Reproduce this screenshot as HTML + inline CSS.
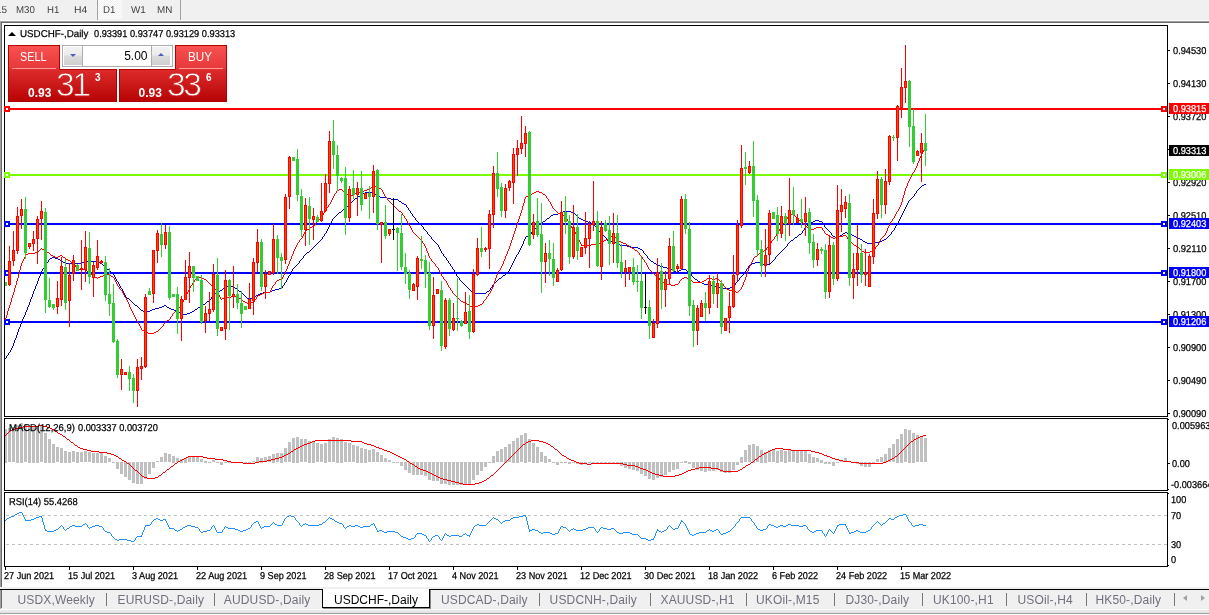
<!DOCTYPE html>
<html><head><meta charset="utf-8"><title>USDCHF-,Daily</title>
<style>
html,body{margin:0;padding:0}
body{width:1209px;height:615px;position:relative;overflow:hidden;background:#fff;font-family:"Liberation Sans",sans-serif}
.t{position:absolute;text-rendering:geometricPrecision;-webkit-text-stroke:0.25px currentColor;font-size:10px;line-height:13px;height:13px;color:#000;white-space:pre;transform-origin:0 0}
.plb{position:absolute;left:1169px;width:40px;height:11px}
#toolbar{position:absolute;left:0;top:0;width:1209px;height:20px;background:#f0f0f0}
.tb{position:absolute;top:2.5px;font-size:10px;line-height:13px;color:#3c3c3c;white-space:pre}
.vs{position:absolute;top:0;width:1px;height:20px;background:#a0a0a0}
#tabbar{position:absolute;left:0;top:590px;width:1209px;height:19px;background:#f0f0f0}
.tab{position:absolute;top:3px;font-size:12px;line-height:15px;color:#70707e;white-space:pre;letter-spacing:0.15px}
.sep{position:absolute;top:3px;width:1px;height:13px;background:#777}
#act{position:absolute;left:322px;top:589px;width:106px;height:18px;background:#fff;border:1px solid #000;border-top:none;box-shadow:1px 1px 0 #888}
#act span{position:absolute;left:11px;top:4px;font-size:12px;line-height:15px;color:#000;white-space:pre}
.btn{position:absolute;color:#fff}
</style></head><body>
<div id="toolbar"><i class="vs" style="left:97px"></i><i class="vs" style="left:180px"></i>
<div style="position:absolute;left:98px;top:0;width:24px;height:19px;background:repeating-conic-gradient(#fff 0 25%,#f0f0f0 0 50%) 0 0/2px 2px"></div></div>
<div style="position:absolute;left:0;top:20px;width:1209px;height:1px;background:#fafafa"></div>
<div style="position:absolute;left:0;top:21px;width:1209px;height:1px;background:#a0a0a0"></div>
<div style="position:absolute;left:1px;top:22px;width:1208px;height:1px;background:#696969"></div>
<div style="position:absolute;left:0;top:21px;width:1px;height:566px;background:#a0a0a0"></div>
<div style="position:absolute;left:1px;top:22px;width:1px;height:565px;background:#696969"></div>
<svg width="1209" height="615" viewBox="0 0 1209 615" style="position:absolute;left:0;top:0"><defs><clipPath id="cm"><rect x="5" y="26" width="1162" height="390"/></clipPath><clipPath id="c2"><rect x="5" y="419" width="1162" height="71"/></clipPath><clipPath id="c3"><rect x="5" y="493" width="1162" height="73"/></clipPath></defs><rect x="4" y="25" width="1164" height="1" fill="#000"/><rect x="4" y="416" width="1164" height="1" fill="#000"/><rect x="4" y="25" width="1" height="392" fill="#000"/><rect x="1167" y="25" width="1" height="392" fill="#000"/><rect x="4" y="418" width="1164" height="1" fill="#000"/><rect x="4" y="490" width="1164" height="1" fill="#000"/><rect x="4" y="418" width="1" height="73" fill="#000"/><rect x="1167" y="418" width="1" height="73" fill="#000"/><rect x="4" y="492" width="1164" height="1" fill="#000"/><rect x="4" y="566" width="1164" height="1" fill="#000"/><rect x="4" y="492" width="1" height="75" fill="#000"/><rect x="1167" y="492" width="1" height="75" fill="#000"/><g shape-rendering="crispEdges"><rect x="5" y="108" width="1162" height="2" fill="#ff0000"/><rect x="5" y="174" width="1162" height="2" fill="#7cfc00"/><rect x="5" y="223" width="1162" height="2" fill="#0000ff"/><rect x="5" y="272" width="1162" height="2" fill="#0000ff"/><rect x="5" y="321" width="1162" height="2" fill="#0000ff"/></g><g shape-rendering="crispEdges"><rect x="4" y="106" width="6" height="6" fill="#ff0000"/><rect x="6" y="108" width="2" height="2" fill="#fff"/><rect x="1161" y="106" width="6" height="6" fill="#ff0000"/><rect x="1163" y="108" width="2" height="2" fill="#fff"/><rect x="4" y="172" width="6" height="6" fill="#7cfc00"/><rect x="6" y="174" width="2" height="2" fill="#fff"/><rect x="1161" y="172" width="6" height="6" fill="#7cfc00"/><rect x="1163" y="174" width="2" height="2" fill="#fff"/><rect x="4" y="221" width="6" height="6" fill="#0000ff"/><rect x="6" y="223" width="2" height="2" fill="#fff"/><rect x="1161" y="221" width="6" height="6" fill="#0000ff"/><rect x="1163" y="223" width="2" height="2" fill="#fff"/><rect x="4" y="270" width="6" height="6" fill="#0000ff"/><rect x="6" y="272" width="2" height="2" fill="#fff"/><rect x="1161" y="270" width="6" height="6" fill="#0000ff"/><rect x="1163" y="272" width="2" height="2" fill="#fff"/><rect x="4" y="319" width="6" height="6" fill="#0000ff"/><rect x="6" y="321" width="2" height="2" fill="#fff"/><rect x="1161" y="319" width="6" height="6" fill="#0000ff"/><rect x="1163" y="321" width="2" height="2" fill="#fff"/></g><path d="M5 358h1v1h-1zM6 356h1v2h-1zM7 355h1v1h-1zM8 353h1v2h-1zM9 352h1v1h-1zM10 350h1v2h-1zM11 348h1v2h-1zM12 346h1v2h-1zM13 343h1v3h-1zM14 340h1v3h-1zM15 338h1v2h-1zM16 335h1v3h-1zM17 332h1v3h-1zM18 329h1v3h-1zM19 327h1v2h-1zM20 324h1v3h-1zM21 321h1v3h-1zM22 319h1v2h-1zM23 317h1v2h-1zM24 315h1v2h-1zM25 312h1v3h-1zM26 310h1v2h-1zM27 307h1v3h-1zM28 305h1v2h-1zM29 302h1v3h-1zM30 299h1v3h-1zM31 297h1v2h-1zM32 294h1v3h-1zM33 291h1v3h-1zM34 289h1v2h-1zM35 286h1v3h-1zM36 284h1v2h-1zM37 281h1v3h-1zM38 278h1v3h-1zM39 276h1v2h-1zM40 273h1v3h-1zM41 271h1v2h-1zM42 269h1v2h-1zM43 268h1v1h-1zM44 266h1v2h-1zM45 265h1v1h-1zM46 263h1v2h-1zM47 262h1v1h-1zM48 260h1v2h-1zM49 259h1v1h-1zM50 258h2v1h-2zM52 257h3v1h-3zM55 258h3v1h-3zM58 259h2v1h-2zM60 260h2v1h-2zM62 261h1v1h-1zM63 262h2v1h-2zM65 263h17v1h-17zM82 262h2v1h-2zM84 261h14v1h-14zM98 262h2v1h-2zM100 263h2v1h-2zM102 264h1v1h-1zM103 265h1v1h-1zM104 266h1v1h-1zM105 267h1v1h-1zM106 268h1v1h-1zM107 269h2v1h-2zM109 270h1v1h-1zM110 271h1v1h-1zM111 272h1v1h-1zM112 273h1v1h-1zM113 274h1v1h-1zM114 275h1v2h-1zM115 277h1v2h-1zM116 279h1v2h-1zM117 281h1v1h-1zM118 282h1v2h-1zM119 284h1v2h-1zM120 286h1v2h-1zM121 288h1v1h-1zM122 289h1v2h-1zM123 291h1v2h-1zM124 293h1v2h-1zM125 295h1v2h-1zM126 297h1v1h-1zM127 298h2v1h-2zM129 299h1v1h-1zM130 300h1v1h-1zM131 301h1v1h-1zM132 302h1v1h-1zM133 303h1v1h-1zM134 304h1v1h-1zM135 305h2v1h-2zM137 306h1v1h-1zM138 307h1v1h-1zM139 308h1v1h-1zM140 309h1v1h-1zM141 310h2v1h-2zM143 311h7v1h-7zM150 310h2v1h-2zM152 309h3v1h-3zM155 308h4v1h-4zM159 307h3v1h-3zM162 306h2v1h-2zM164 305h2v1h-2zM166 306h1v1h-1zM167 307h2v1h-2zM169 308h2v1h-2zM171 309h3v1h-3zM174 310h2v1h-2zM176 311h2v1h-2zM178 312h2v1h-2zM180 313h3v1h-3zM183 314h4v1h-4zM187 313h3v1h-3zM190 312h2v1h-2zM192 311h2v1h-2zM194 310h1v1h-1zM195 309h2v1h-2zM197 308h1v1h-1zM198 307h2v1h-2zM200 306h2v1h-2zM202 305h1v1h-1zM203 304h2v1h-2zM205 303h1v1h-1zM206 302h1v1h-1zM207 301h2v1h-2zM209 300h1v1h-1zM210 299h1v1h-1zM211 297h1v2h-1zM212 296h1v1h-1zM213 295h1v1h-1zM214 294h1v1h-1zM215 293h2v1h-2zM217 292h1v1h-1zM218 291h2v1h-2zM220 290h2v1h-2zM222 289h1v1h-1zM223 288h1v1h-1zM224 287h1v1h-1zM225 286h9v1h-9zM234 287h1v1h-1zM235 288h2v1h-2zM237 289h1v1h-1zM238 290h1v1h-1zM239 291h2v1h-2zM241 292h1v1h-1zM242 293h1v1h-1zM243 294h1v1h-1zM244 295h1v1h-1zM245 296h1v1h-1zM246 297h1v1h-1zM247 298h2v1h-2zM249 299h1v1h-1zM250 298h2v1h-2zM252 297h2v1h-2zM254 296h2v1h-2zM256 295h2v1h-2zM258 294h2v1h-2zM260 293h3v1h-3zM263 292h7v1h-7zM270 291h2v1h-2zM272 290h3v1h-3zM275 289h4v1h-4zM279 288h3v1h-3zM282 286h1v2h-1zM283 285h1v1h-1zM284 283h1v2h-1zM285 282h1v1h-1zM286 280h1v2h-1zM287 278h1v2h-1zM288 276h1v2h-1zM289 275h1v1h-1zM290 273h1v2h-1zM291 271h1v2h-1zM292 269h1v2h-1zM293 268h1v1h-1zM294 267h1v1h-1zM295 266h1v1h-1zM296 265h1v1h-1zM297 264h1v1h-1zM298 263h1v1h-1zM299 261h1v2h-1zM300 260h1v1h-1zM301 259h1v1h-1zM302 258h1v1h-1zM303 256h1v2h-1zM304 255h1v1h-1zM305 254h1v1h-1zM306 253h1v1h-1zM307 252h2v1h-2zM309 251h1v1h-1zM310 250h1v1h-1zM311 249h1v1h-1zM312 248h1v1h-1zM313 247h1v1h-1zM314 246h1v1h-1zM315 245h1v1h-1zM316 244h1v1h-1zM317 243h1v1h-1zM318 242h1v1h-1zM319 241h1v1h-1zM320 240h1v1h-1zM321 239h1v1h-1zM322 237h1v2h-1zM323 236h1v1h-1zM324 234h1v2h-1zM325 233h1v1h-1zM326 231h1v2h-1zM327 229h1v2h-1zM328 227h1v2h-1zM329 225h1v2h-1zM330 223h1v2h-1zM331 221h1v2h-1zM332 219h1v2h-1zM333 218h1v1h-1zM334 217h1v1h-1zM335 216h1v1h-1zM336 215h1v1h-1zM337 214h1v1h-1zM338 213h1v1h-1zM339 212h2v1h-2zM341 211h1v1h-1zM342 210h1v1h-1zM343 209h2v1h-2zM345 208h1v1h-1zM346 207h1v1h-1zM347 206h1v1h-1zM348 205h1v1h-1zM349 204h1v1h-1zM350 203h1v1h-1zM351 202h1v1h-1zM352 201h1v1h-1zM353 200h1v1h-1zM354 199h1v1h-1zM355 198h2v1h-2zM357 197h1v1h-1zM358 196h2v1h-2zM360 195h2v1h-2zM362 194h1v1h-1zM363 193h2v1h-2zM365 192h9v1h-9zM374 193h1v1h-1zM375 194h2v1h-2zM377 195h1v1h-1zM378 196h2v1h-2zM380 197h7v1h-7zM387 198h4v1h-4zM391 199h7v1h-7zM398 200h1v1h-1zM399 201h2v1h-2zM401 202h1v1h-1zM402 203h2v1h-2zM404 204h2v1h-2zM406 205h1v2h-1zM407 207h1v1h-1zM408 208h1v2h-1zM409 210h1v1h-1zM410 211h1v2h-1zM411 213h1v1h-1zM412 214h1v2h-1zM413 216h1v1h-1zM414 217h1v1h-1zM415 218h1v2h-1zM416 220h1v1h-1zM417 221h1v1h-1zM418 222h1v1h-1zM419 223h1v1h-1zM420 224h1v1h-1zM421 225h1v1h-1zM422 226h1v1h-1zM423 227h1v2h-1zM424 229h1v1h-1zM425 230h1v1h-1zM426 231h1v1h-1zM427 232h1v2h-1zM428 234h1v1h-1zM429 235h1v1h-1zM430 236h1v1h-1zM431 237h1v2h-1zM432 239h1v1h-1zM433 240h1v1h-1zM434 241h1v1h-1zM435 242h1v1h-1zM436 243h1v1h-1zM437 244h1v1h-1zM438 245h1v2h-1zM439 247h1v2h-1zM440 249h1v2h-1zM441 251h1v2h-1zM442 253h1v1h-1zM443 254h1v2h-1zM444 256h1v1h-1zM445 257h1v1h-1zM446 258h1v2h-1zM447 260h1v1h-1zM448 261h1v2h-1zM449 263h1v1h-1zM450 264h1v2h-1zM451 266h1v1h-1zM452 267h1v2h-1zM453 269h1v1h-1zM454 270h1v2h-1zM455 272h1v2h-1zM456 274h1v2h-1zM457 276h1v1h-1zM458 277h1v1h-1zM459 278h1v2h-1zM460 280h1v1h-1zM461 281h1v1h-1zM462 282h1v1h-1zM463 283h1v1h-1zM464 284h1v1h-1zM465 285h1v1h-1zM466 286h1v1h-1zM467 287h1v1h-1zM468 288h1v1h-1zM469 289h1v1h-1zM470 290h1v1h-1zM471 291h2v1h-2zM473 292h2v1h-2zM475 293h11v1h-11zM486 292h1v1h-1zM487 291h2v1h-2zM489 290h1v1h-1zM490 288h1v2h-1zM491 287h1v1h-1zM492 285h1v2h-1zM493 284h1v1h-1zM494 283h1v1h-1zM495 282h1v1h-1zM496 281h1v1h-1zM497 280h1v1h-1zM498 279h1v1h-1zM499 278h2v1h-2zM501 277h1v1h-1zM502 276h1v1h-1zM503 275h2v1h-2zM505 274h1v1h-1zM506 273h1v1h-1zM507 272h1v1h-1zM508 271h1v1h-1zM509 269h1v2h-1zM510 267h1v2h-1zM511 265h1v2h-1zM512 263h1v2h-1zM513 261h1v2h-1zM514 259h1v2h-1zM515 257h1v2h-1zM516 255h1v2h-1zM517 254h1v1h-1zM518 252h1v2h-1zM519 250h1v2h-1zM520 248h1v2h-1zM521 246h1v2h-1zM522 244h1v2h-1zM523 241h1v3h-1zM524 239h1v2h-1zM525 237h1v2h-1zM526 236h2v1h-2zM528 235h2v1h-2zM530 234h1v1h-1zM531 232h1v2h-1zM532 231h1v1h-1zM533 230h1v1h-1zM534 229h1v1h-1zM535 228h1v1h-1zM536 227h1v1h-1zM537 226h1v1h-1zM538 225h1v1h-1zM539 224h2v1h-2zM541 223h1v1h-1zM542 222h1v1h-1zM543 221h2v1h-2zM545 220h1v1h-1zM546 219h1v1h-1zM547 218h2v1h-2zM549 217h1v1h-1zM550 216h1v1h-1zM551 215h2v1h-2zM553 214h5v1h-5zM558 213h2v1h-2zM560 212h3v1h-3zM563 211h8v1h-8zM571 212h3v1h-3zM574 213h1v1h-1zM575 214h1v1h-1zM576 215h1v1h-1zM577 216h1v1h-1zM578 217h1v1h-1zM579 218h2v1h-2zM581 219h2v1h-2zM583 220h3v1h-3zM586 221h2v1h-2zM588 222h3v1h-3zM591 223h3v1h-3zM594 224h1v2h-1zM595 226h1v1h-1zM596 227h1v2h-1zM597 229h1v1h-1zM598 230h1v1h-1zM599 231h1v1h-1zM600 232h1v1h-1zM601 233h1v1h-1zM602 234h1v1h-1zM603 235h1v1h-1zM604 236h1v1h-1zM605 237h1v1h-1zM606 238h1v1h-1zM607 239h1v2h-1zM608 241h1v1h-1zM609 242h2v1h-2zM611 241h3v1h-3zM614 242h2v1h-2zM616 243h2v1h-2zM618 244h2v1h-2zM620 245h7v1h-7zM627 246h4v1h-4zM631 247h7v1h-7zM638 248h2v1h-2zM640 249h2v1h-2zM642 250h1v1h-1zM643 251h1v2h-1zM644 253h1v1h-1zM645 254h1v1h-1zM646 255h1v1h-1zM647 256h1v2h-1zM648 258h1v1h-1zM649 259h1v1h-1zM650 260h1v1h-1zM651 261h2v1h-2zM653 262h1v1h-1zM654 263h2v1h-2zM656 264h2v1h-2zM658 265h2v1h-2zM660 266h3v1h-3zM663 267h4v1h-4zM667 268h3v1h-3zM670 269h2v1h-2zM672 270h2v1h-2zM674 271h2v1h-2zM676 272h2v1h-2zM678 271h1v1h-1zM679 270h2v1h-2zM681 269h5v1h-5zM686 270h1v1h-1zM687 271h2v1h-2zM689 272h1v1h-1zM690 273h1v1h-1zM691 274h1v2h-1zM692 276h1v1h-1zM693 277h1v1h-1zM694 278h1v1h-1zM695 279h2v1h-2zM697 280h1v1h-1zM698 281h2v1h-2zM700 282h2v1h-2zM702 283h2v1h-2zM704 284h6v1h-6zM710 285h2v1h-2zM712 286h6v1h-6zM718 287h2v1h-2zM720 288h10v1h-10zM730 287h2v1h-2zM732 286h2v1h-2zM734 285h1v1h-1zM735 283h1v2h-1zM736 282h1v1h-1zM737 281h1v1h-1zM738 280h1v1h-1zM739 278h1v2h-1zM740 277h1v1h-1zM741 276h1v1h-1zM742 275h1v1h-1zM743 273h1v2h-1zM744 272h1v1h-1zM745 271h1v1h-1zM746 269h1v2h-1zM747 268h1v1h-1zM748 266h1v2h-1zM749 265h1v1h-1zM750 264h2v1h-2zM752 263h3v1h-3zM755 262h7v1h-7zM762 263h1v1h-1zM763 264h2v1h-2zM765 265h2v1h-2zM767 264h3v1h-3zM770 263h1v1h-1zM771 262h1v1h-1zM772 261h1v1h-1zM773 260h1v1h-1zM774 259h1v1h-1zM775 257h1v2h-1zM776 256h1v1h-1zM777 255h1v1h-1zM778 254h1v1h-1zM779 253h1v1h-1zM780 252h1v1h-1zM781 251h1v1h-1zM782 250h1v1h-1zM783 249h1v1h-1zM784 248h1v1h-1zM785 247h1v1h-1zM786 246h1v1h-1zM787 244h1v2h-1zM788 243h1v1h-1zM789 242h1v1h-1zM790 241h1v1h-1zM791 240h2v1h-2zM793 239h1v1h-1zM794 238h1v1h-1zM795 237h2v1h-2zM797 236h1v1h-1zM798 235h1v1h-1zM799 234h2v1h-2zM801 233h1v1h-1zM802 231h1v2h-1zM803 230h1v1h-1zM804 228h1v2h-1zM805 227h1v1h-1zM806 226h1v1h-1zM807 225h2v1h-2zM809 224h1v1h-1zM810 223h1v1h-1zM811 222h2v1h-2zM813 221h2v1h-2zM815 220h4v1h-4zM819 221h3v1h-3zM822 222h1v2h-1zM823 224h1v1h-1zM824 225h1v2h-1zM825 227h1v1h-1zM826 228h1v1h-1zM827 229h1v1h-1zM828 230h1v1h-1zM829 231h1v1h-1zM830 232h1v1h-1zM831 233h1v2h-1zM832 235h1v1h-1zM833 236h2v1h-2zM835 237h3v1h-3zM838 236h2v1h-2zM840 235h2v1h-2zM842 234h1v1h-1zM843 233h2v1h-2zM845 232h2v1h-2zM847 233h3v1h-3zM850 234h2v1h-2zM852 235h2v1h-2zM854 236h2v1h-2zM856 237h2v1h-2zM858 238h2v1h-2zM860 239h2v1h-2zM862 240h1v1h-1zM863 241h2v1h-2zM865 242h2v1h-2zM867 243h8v1h-8zM875 242h4v1h-4zM879 241h3v1h-3zM882 240h2v1h-2zM884 239h2v1h-2zM886 238h1v1h-1zM887 237h1v1h-1zM888 236h1v1h-1zM889 235h1v1h-1zM890 234h1v1h-1zM891 232h1v2h-1zM892 231h1v1h-1zM893 230h1v1h-1zM894 228h1v2h-1zM895 226h1v2h-1zM896 224h1v2h-1zM897 223h1v1h-1zM898 221h1v2h-1zM899 219h1v2h-1zM900 217h1v2h-1zM901 215h1v2h-1zM902 213h1v2h-1zM903 211h1v2h-1zM904 209h1v2h-1zM905 207h1v2h-1zM906 205h1v2h-1zM907 203h1v2h-1zM908 201h1v2h-1zM909 200h1v1h-1zM910 199h1v1h-1zM911 198h1v1h-1zM912 197h1v1h-1zM913 196h1v1h-1zM914 194h1v2h-1zM915 193h1v1h-1zM916 191h1v2h-1zM917 190h1v1h-1zM918 189h1v1h-1zM919 188h1v1h-1zM920 187h1v1h-1zM921 186h1v1h-1zM922 185h2v1h-2zM924 184h2v1h-2z" fill="#0000cd" shape-rendering="crispEdges" clip-path="url(#cm)"/><path d="M5 318h1v2h-1zM6 315h1v3h-1zM7 311h1v4h-1zM8 308h1v3h-1zM9 305h1v3h-1zM10 302h1v3h-1zM11 298h1v4h-1zM12 295h1v3h-1zM13 292h1v3h-1zM14 288h1v4h-1zM15 285h1v3h-1zM16 281h1v4h-1zM17 278h1v3h-1zM18 274h1v4h-1zM19 270h1v4h-1zM20 266h1v4h-1zM21 263h1v3h-1zM22 261h1v2h-1zM23 259h1v2h-1zM24 257h1v2h-1zM25 255h1v2h-1zM26 254h2v1h-2zM28 253h7v1h-7zM35 252h3v1h-3zM38 251h1v1h-1zM39 250h1v1h-1zM40 249h1v1h-1zM41 248h1v1h-1zM42 249h2v1h-2zM44 250h2v1h-2zM46 251h1v1h-1zM47 252h2v1h-2zM49 253h1v1h-1zM50 254h1v1h-1zM51 255h2v1h-2zM53 256h2v1h-2zM55 257h3v1h-3zM58 256h2v1h-2zM60 255h2v1h-2zM62 256h1v1h-1zM63 257h2v1h-2zM65 258h1v1h-1zM66 259h2v1h-2zM68 260h2v1h-2zM70 261h1v1h-1zM71 262h2v1h-2zM73 263h1v1h-1zM74 264h1v1h-1zM75 265h1v2h-1zM76 267h1v1h-1zM77 268h2v1h-2zM79 269h7v1h-7zM86 270h1v1h-1zM87 271h2v1h-2zM89 272h1v1h-1zM90 273h1v1h-1zM91 274h2v1h-2zM93 275h1v1h-1zM94 276h1v1h-1zM95 277h2v1h-2zM97 278h1v1h-1zM98 277h2v1h-2zM100 276h3v1h-3zM103 275h4v1h-4zM107 274h3v1h-3zM110 275h1v1h-1zM111 276h2v1h-2zM113 277h1v1h-1zM114 278h1v2h-1zM115 280h1v2h-1zM116 282h1v2h-1zM117 284h1v2h-1zM118 286h1v1h-1zM119 287h1v2h-1zM120 289h1v1h-1zM121 290h1v1h-1zM122 291h1v2h-1zM123 293h1v2h-1zM124 295h1v2h-1zM125 297h1v1h-1zM126 298h1v2h-1zM127 300h1v2h-1zM128 302h1v2h-1zM129 304h1v3h-1zM130 307h1v2h-1zM131 309h1v2h-1zM132 311h1v2h-1zM133 313h1v2h-1zM134 315h1v2h-1zM135 317h1v2h-1zM136 319h1v2h-1zM137 321h1v1h-1zM138 322h1v2h-1zM139 324h1v2h-1zM140 326h1v2h-1zM141 328h1v2h-1zM142 330h2v1h-2zM144 331h2v1h-2zM146 332h2v1h-2zM148 333h6v1h-6zM154 332h2v1h-2zM156 331h2v1h-2zM158 330h1v1h-1zM159 329h1v1h-1zM160 328h1v1h-1zM161 327h1v1h-1zM162 326h1v1h-1zM163 324h1v2h-1zM164 323h1v1h-1zM165 322h1v1h-1zM166 321h1v1h-1zM167 320h2v1h-2zM169 319h1v1h-1zM170 317h1v2h-1zM171 316h1v1h-1zM172 314h1v2h-1zM173 313h1v1h-1zM174 312h1v1h-1zM175 311h2v1h-2zM177 310h1v1h-1zM178 308h1v2h-1zM179 307h1v1h-1zM180 305h1v2h-1zM181 304h1v1h-1zM182 302h1v2h-1zM183 300h1v2h-1zM184 298h1v2h-1zM185 296h1v2h-1zM186 294h1v2h-1zM187 292h1v2h-1zM188 290h1v2h-1zM189 288h1v2h-1zM190 286h1v2h-1zM191 285h1v1h-1zM192 283h1v2h-1zM193 282h1v1h-1zM194 280h1v2h-1zM195 279h1v1h-1zM196 277h1v2h-1zM197 276h2v1h-2zM199 277h3v1h-3zM202 278h2v1h-2zM204 279h2v1h-2zM206 280h1v1h-1zM207 281h1v1h-1zM208 282h1v1h-1zM209 283h1v1h-1zM210 284h1v1h-1zM211 285h2v1h-2zM213 286h1v1h-1zM214 287h1v2h-1zM215 289h1v1h-1zM216 290h1v2h-1zM217 292h1v1h-1zM218 293h1v2h-1zM219 295h1v2h-1zM220 297h1v2h-1zM221 299h1v1h-1zM222 298h2v1h-2zM224 297h7v1h-7zM231 296h7v1h-7zM238 297h1v1h-1zM239 298h2v1h-2zM241 299h1v1h-1zM242 300h1v1h-1zM243 301h2v1h-2zM245 302h2v1h-2zM247 303h4v1h-4zM251 302h3v1h-3zM254 300h1v2h-1zM255 299h1v1h-1zM256 297h1v2h-1zM257 296h1v1h-1zM258 295h2v1h-2zM260 294h2v1h-2zM262 293h2v1h-2zM264 292h6v1h-6zM270 290h1v2h-1zM271 288h1v2h-1zM272 286h1v2h-1zM273 285h1v1h-1zM274 284h1v1h-1zM275 282h1v2h-1zM276 281h1v1h-1zM277 280h2v1h-2zM279 279h3v1h-3zM282 277h1v2h-1zM283 275h1v2h-1zM284 273h1v2h-1zM285 271h1v2h-1zM286 269h1v2h-1zM287 266h1v3h-1zM288 264h1v2h-1zM289 261h1v3h-1zM290 259h1v2h-1zM291 256h1v3h-1zM292 254h1v2h-1zM293 251h1v3h-1zM294 249h1v2h-1zM295 247h1v2h-1zM296 245h1v2h-1zM297 243h1v2h-1zM298 242h1v1h-1zM299 240h1v2h-1zM300 239h1v1h-1zM301 238h1v1h-1zM302 236h1v2h-1zM303 234h1v2h-1zM304 232h1v2h-1zM305 231h1v1h-1zM306 230h1v1h-1zM307 229h2v1h-2zM309 228h1v1h-1zM310 227h2v1h-2zM312 226h2v1h-2zM314 225h1v1h-1zM315 223h1v2h-1zM316 222h1v1h-1zM317 221h1v1h-1zM318 220h1v1h-1zM319 219h1v1h-1zM320 218h1v1h-1zM321 217h1v1h-1zM322 215h1v2h-1zM323 213h1v2h-1zM324 211h1v2h-1zM325 210h1v1h-1zM326 208h1v2h-1zM327 207h1v1h-1zM328 205h1v2h-1zM329 204h1v1h-1zM330 202h1v2h-1zM331 200h1v2h-1zM332 198h1v2h-1zM333 196h1v2h-1zM334 194h1v2h-1zM335 193h1v1h-1zM336 191h1v2h-1zM337 190h2v1h-2zM339 189h3v1h-3zM342 190h1v1h-1zM343 191h1v1h-1zM344 192h1v1h-1zM345 193h1v1h-1zM346 194h2v1h-2zM348 195h6v1h-6zM354 194h1v1h-1zM355 193h2v1h-2zM357 192h5v1h-5zM362 191h2v1h-2zM364 190h3v1h-3zM367 189h3v1h-3zM370 188h1v1h-1zM371 187h1v1h-1zM372 186h1v1h-1zM373 185h2v1h-2zM375 186h3v1h-3zM378 187h1v1h-1zM379 188h2v1h-2zM381 189h1v1h-1zM382 190h1v2h-1zM383 192h1v2h-1zM384 194h1v2h-1zM385 196h1v1h-1zM386 197h1v1h-1zM387 198h1v2h-1zM388 200h1v1h-1zM389 201h1v1h-1zM390 202h1v1h-1zM391 203h1v1h-1zM392 204h1v1h-1zM393 205h1v1h-1zM394 206h1v1h-1zM395 207h1v1h-1zM396 208h1v1h-1zM397 209h1v1h-1zM398 210h1v1h-1zM399 211h2v1h-2zM401 212h1v1h-1zM402 213h1v2h-1zM403 215h1v1h-1zM404 216h1v2h-1zM405 218h1v1h-1zM406 219h1v2h-1zM407 221h1v2h-1zM408 223h1v2h-1zM409 225h1v1h-1zM410 226h1v2h-1zM411 228h1v2h-1zM412 230h1v2h-1zM413 232h1v1h-1zM414 233h1v1h-1zM415 234h1v1h-1zM416 235h1v1h-1zM417 236h1v1h-1zM418 237h1v1h-1zM419 238h1v1h-1zM420 239h1v1h-1zM421 240h1v1h-1zM422 241h1v2h-1zM423 243h1v1h-1zM424 244h1v2h-1zM425 246h1v2h-1zM426 248h1v3h-1zM427 251h1v2h-1zM428 253h1v3h-1zM429 256h1v2h-1zM430 258h1v1h-1zM431 259h1v2h-1zM432 261h1v1h-1zM433 262h1v1h-1zM434 263h1v1h-1zM435 264h1v2h-1zM436 266h1v1h-1zM437 267h1v1h-1zM438 268h1v2h-1zM439 270h1v2h-1zM440 272h1v2h-1zM441 274h1v2h-1zM442 276h1v1h-1zM443 277h1v2h-1zM444 279h1v1h-1zM445 280h1v1h-1zM446 281h1v2h-1zM447 283h1v2h-1zM448 285h1v2h-1zM449 287h1v1h-1zM450 288h1v2h-1zM451 290h1v1h-1zM452 291h1v2h-1zM453 293h1v1h-1zM454 294h1v1h-1zM455 295h1v1h-1zM456 296h1v1h-1zM457 297h1v1h-1zM458 298h1v1h-1zM459 299h1v1h-1zM460 300h1v1h-1zM461 301h2v1h-2zM463 302h3v1h-3zM466 303h1v1h-1zM467 304h2v1h-2zM469 305h1v1h-1zM470 306h2v1h-2zM472 307h3v1h-3zM475 306h3v1h-3zM478 305h2v1h-2zM480 304h2v1h-2zM482 303h1v1h-1zM483 301h1v2h-1zM484 300h1v1h-1zM485 299h1v1h-1zM486 297h1v2h-1zM487 296h1v1h-1zM488 294h1v2h-1zM489 293h1v1h-1zM490 291h1v2h-1zM491 289h1v2h-1zM492 287h1v2h-1zM493 284h1v3h-1zM494 281h1v3h-1zM495 278h1v3h-1zM496 275h1v3h-1zM497 273h1v2h-1zM498 271h1v2h-1zM499 270h1v1h-1zM500 268h1v2h-1zM501 266h1v2h-1zM502 264h1v2h-1zM503 261h1v3h-1zM504 259h1v2h-1zM505 256h1v3h-1zM506 254h1v2h-1zM507 251h1v3h-1zM508 249h1v2h-1zM509 246h1v3h-1zM510 243h1v3h-1zM511 240h1v3h-1zM512 237h1v3h-1zM513 234h1v3h-1zM514 231h1v3h-1zM515 228h1v3h-1zM516 225h1v3h-1zM517 222h1v3h-1zM518 219h1v3h-1zM519 216h1v3h-1zM520 213h1v3h-1zM521 210h1v3h-1zM522 206h1v4h-1zM523 203h1v3h-1zM524 199h1v4h-1zM525 197h1v2h-1zM526 196h2v1h-2zM528 195h2v1h-2zM530 194h2v1h-2zM532 193h2v1h-2zM534 192h2v1h-2zM536 191h3v1h-3zM539 192h3v1h-3zM542 193h1v1h-1zM543 194h2v1h-2zM545 195h1v1h-1zM546 196h1v2h-1zM547 198h1v1h-1zM548 199h1v2h-1zM549 201h1v1h-1zM550 202h1v2h-1zM551 204h1v2h-1zM552 206h1v2h-1zM553 208h1v1h-1zM554 209h1v1h-1zM555 210h1v1h-1zM556 211h1v1h-1zM557 212h1v1h-1zM558 213h2v1h-2zM560 214h2v1h-2zM562 215h2v1h-2zM564 216h2v1h-2zM566 217h1v2h-1zM567 219h1v2h-1zM568 221h1v2h-1zM569 223h1v2h-1zM570 225h1v1h-1zM571 226h1v2h-1zM572 228h1v1h-1zM573 229h1v1h-1zM574 230h1v2h-1zM575 232h1v2h-1zM576 234h1v2h-1zM577 236h1v2h-1zM578 238h1v2h-1zM579 240h1v2h-1zM580 242h1v2h-1zM581 244h1v2h-1zM582 245h9v1h-9zM591 244h7v1h-7zM598 243h2v1h-2zM600 242h2v1h-2zM602 241h2v1h-2zM604 240h2v1h-2zM606 239h2v1h-2zM608 238h2v1h-2zM610 237h1v1h-1zM611 236h2v1h-2zM613 235h1v1h-1zM614 236h1v1h-1zM615 237h1v1h-1zM616 238h1v1h-1zM617 239h1v1h-1zM618 240h1v1h-1zM619 241h2v1h-2zM621 242h2v1h-2zM623 243h3v1h-3zM626 244h1v1h-1zM627 245h2v1h-2zM629 246h1v1h-1zM630 247h2v1h-2zM632 248h2v1h-2zM634 249h1v1h-1zM635 250h2v1h-2zM637 251h1v1h-1zM638 252h1v1h-1zM639 253h1v2h-1zM640 255h1v1h-1zM641 256h1v1h-1zM642 257h1v2h-1zM643 259h1v1h-1zM644 260h1v2h-1zM645 262h1v1h-1zM646 263h1v2h-1zM647 265h1v2h-1zM648 267h1v2h-1zM649 269h1v1h-1zM650 270h1v1h-1zM651 271h1v1h-1zM652 272h1v1h-1zM653 273h1v1h-1zM654 274h1v1h-1zM655 275h2v1h-2zM657 276h1v1h-1zM658 277h1v1h-1zM659 278h1v2h-1zM660 280h1v1h-1zM661 281h1v1h-1zM662 282h2v1h-2zM664 283h3v1h-3zM667 284h4v1h-4zM671 285h4v1h-4zM675 284h3v1h-3zM678 283h1v1h-1zM679 281h1v2h-1zM680 280h1v1h-1zM681 279h1v1h-1zM682 278h2v1h-2zM684 277h3v1h-3zM687 278h3v1h-3zM690 279h1v1h-1zM691 280h1v1h-1zM692 281h1v1h-1zM693 282h9v1h-9zM702 281h2v1h-2zM704 280h2v1h-2zM706 279h1v1h-1zM707 278h2v1h-2zM709 277h1v1h-1zM710 278h2v1h-2zM712 279h3v1h-3zM715 278h3v1h-3zM718 279h1v1h-1zM719 280h1v1h-1zM720 281h1v1h-1zM721 282h1v1h-1zM722 283h1v1h-1zM723 284h1v2h-1zM724 286h1v1h-1zM725 287h1v1h-1zM726 288h1v1h-1zM727 289h2v1h-2zM729 290h5v1h-5zM734 291h2v1h-2zM736 292h2v1h-2zM738 291h1v1h-1zM739 290h1v1h-1zM740 289h1v1h-1zM741 287h1v2h-1zM742 285h1v2h-1zM743 282h1v3h-1zM744 280h1v2h-1zM745 277h1v3h-1zM746 274h1v3h-1zM747 271h1v3h-1zM748 268h1v3h-1zM749 266h1v2h-1zM750 264h1v2h-1zM751 262h1v2h-1zM752 260h1v2h-1zM753 258h1v2h-1zM754 257h1v1h-1zM755 256h2v1h-2zM757 255h1v1h-1zM758 254h1v1h-1zM759 253h2v1h-2zM761 252h1v1h-1zM762 251h2v1h-2zM764 250h2v1h-2zM766 248h1v2h-1zM767 247h1v1h-1zM768 245h1v2h-1zM769 244h1v1h-1zM770 243h1v1h-1zM771 241h1v2h-1zM772 240h1v1h-1zM773 239h1v1h-1zM774 237h1v2h-1zM775 236h1v1h-1zM776 234h1v2h-1zM777 233h1v1h-1zM778 231h1v2h-1zM779 229h1v2h-1zM780 227h1v2h-1zM781 226h1v1h-1zM782 224h1v2h-1zM783 223h1v1h-1zM784 221h1v2h-1zM785 220h1v1h-1zM786 219h1v1h-1zM787 217h1v2h-1zM788 216h1v1h-1zM789 215h2v1h-2zM791 214h3v1h-3zM794 215h1v1h-1zM795 216h1v1h-1zM796 217h1v1h-1zM797 218h1v1h-1zM798 219h1v1h-1zM799 220h2v1h-2zM801 221h1v1h-1zM802 222h1v1h-1zM803 223h1v1h-1zM804 224h1v1h-1zM805 225h1v1h-1zM806 226h1v1h-1zM807 227h2v1h-2zM809 228h2v1h-2zM811 229h3v1h-3zM814 228h2v1h-2zM816 227h6v1h-6zM822 228h1v2h-1zM823 230h1v1h-1zM824 231h1v2h-1zM825 233h1v1h-1zM826 234h2v1h-2zM828 235h2v1h-2zM830 236h1v1h-1zM831 237h2v1h-2zM833 238h2v1h-2zM835 237h4v1h-4zM839 236h4v1h-4zM843 235h3v1h-3zM846 236h1v1h-1zM847 237h1v2h-1zM848 239h1v1h-1zM849 240h1v1h-1zM850 241h1v1h-1zM851 242h1v1h-1zM852 243h1v1h-1zM853 244h1v1h-1zM854 245h2v1h-2zM856 246h2v1h-2zM858 247h1v1h-1zM859 248h1v1h-1zM860 249h1v1h-1zM861 250h1v1h-1zM862 251h2v1h-2zM864 252h6v1h-6zM870 251h2v1h-2zM872 250h2v1h-2zM874 249h1v1h-1zM875 247h1v2h-1zM876 246h1v1h-1zM877 245h1v1h-1zM878 243h1v2h-1zM879 241h1v2h-1zM880 239h1v2h-1zM881 238h1v1h-1zM882 237h1v1h-1zM883 236h1v1h-1zM884 235h1v1h-1zM885 233h1v2h-1zM886 231h1v2h-1zM887 228h1v3h-1zM888 226h1v2h-1zM889 224h1v2h-1zM890 222h1v2h-1zM891 221h1v1h-1zM892 219h1v2h-1zM893 218h1v1h-1zM894 216h1v2h-1zM895 214h1v2h-1zM896 212h1v2h-1zM897 211h1v1h-1zM898 209h1v2h-1zM899 207h1v2h-1zM900 205h1v2h-1zM901 202h1v3h-1zM902 198h1v4h-1zM903 195h1v3h-1zM904 191h1v4h-1zM905 188h1v3h-1zM906 186h1v2h-1zM907 183h1v3h-1zM908 181h1v2h-1zM909 179h1v2h-1zM910 177h1v2h-1zM911 175h1v2h-1zM912 173h1v2h-1zM913 172h1v1h-1zM914 170h1v2h-1zM915 168h1v2h-1zM916 166h1v2h-1zM917 163h1v3h-1zM918 161h1v2h-1zM919 158h1v3h-1zM920 156h1v2h-1zM921 154h1v2h-1zM922 152h1v2h-1zM923 150h1v2h-1zM924 148h1v2h-1zM925 147h1v1h-1z" fill="#ff0000" shape-rendering="crispEdges" clip-path="url(#cm)"/><g shape-rendering="crispEdges" clip-path="url(#cm)"><rect x="5" y="282" width="1" height="4" fill="#32cd32"/><rect x="4" y="282" width="3" height="4" fill="#32cd32"/><rect x="9" y="246" width="1" height="40" fill="#ff0000"/><rect x="8" y="261" width="3" height="24" fill="#ff0000"/><rect x="9" y="262" width="1" height="22" fill="#ff4500"/><rect x="13" y="231" width="1" height="35" fill="#ff0000"/><rect x="12" y="250" width="3" height="11" fill="#ff0000"/><rect x="13" y="251" width="1" height="9" fill="#ff4500"/><rect x="17" y="207" width="1" height="47" fill="#ff0000"/><rect x="16" y="216" width="3" height="35" fill="#ff0000"/><rect x="17" y="217" width="1" height="33" fill="#ff4500"/><rect x="21" y="199" width="1" height="30" fill="#ff0000"/><rect x="20" y="209" width="3" height="7" fill="#ff0000"/><rect x="21" y="210" width="1" height="5" fill="#ff4500"/><rect x="25" y="197" width="1" height="62" fill="#32cd32"/><rect x="24" y="209" width="3" height="44" fill="#32cd32"/><rect x="29" y="243" width="1" height="6" fill="#ff0000"/><rect x="28" y="243" width="3" height="4" fill="#ff0000"/><rect x="29" y="244" width="1" height="2" fill="#ff4500"/><rect x="33" y="231" width="1" height="20" fill="#ff0000"/><rect x="32" y="239" width="3" height="5" fill="#ff0000"/><rect x="33" y="240" width="1" height="3" fill="#ff4500"/><rect x="37" y="216" width="1" height="48" fill="#ff0000"/><rect x="36" y="219" width="3" height="20" fill="#ff0000"/><rect x="37" y="220" width="1" height="18" fill="#ff4500"/><rect x="41" y="201" width="1" height="39" fill="#ff0000"/><rect x="40" y="211" width="3" height="8" fill="#ff0000"/><rect x="41" y="212" width="1" height="6" fill="#ff4500"/><rect x="45" y="208" width="1" height="105" fill="#32cd32"/><rect x="44" y="212" width="3" height="88" fill="#32cd32"/><rect x="49" y="278" width="1" height="30" fill="#32cd32"/><rect x="48" y="300" width="3" height="7" fill="#32cd32"/><rect x="53" y="304" width="1" height="6" fill="#32cd32"/><rect x="52" y="304" width="3" height="4" fill="#32cd32"/><rect x="57" y="281" width="1" height="33" fill="#ff0000"/><rect x="56" y="298" width="3" height="9" fill="#ff0000"/><rect x="57" y="299" width="1" height="7" fill="#ff4500"/><rect x="61" y="257" width="1" height="49" fill="#ff0000"/><rect x="60" y="266" width="3" height="34" fill="#ff0000"/><rect x="61" y="267" width="1" height="32" fill="#ff4500"/><rect x="65" y="259" width="1" height="51" fill="#32cd32"/><rect x="64" y="267" width="3" height="36" fill="#32cd32"/><rect x="69" y="263" width="1" height="64" fill="#ff0000"/><rect x="68" y="275" width="3" height="26" fill="#ff0000"/><rect x="69" y="276" width="1" height="24" fill="#ff4500"/><rect x="73" y="255" width="1" height="26" fill="#ff0000"/><rect x="72" y="260" width="3" height="14" fill="#ff0000"/><rect x="73" y="261" width="1" height="12" fill="#ff4500"/><rect x="77" y="264" width="1" height="7" fill="#32cd32"/><rect x="76" y="265" width="3" height="6" fill="#32cd32"/><rect x="81" y="240" width="1" height="50" fill="#ff0000"/><rect x="80" y="268" width="3" height="2" fill="#ff0000"/><rect x="85" y="231" width="1" height="51" fill="#ff0000"/><rect x="84" y="247" width="3" height="23" fill="#ff0000"/><rect x="85" y="248" width="1" height="21" fill="#ff4500"/><rect x="89" y="232" width="1" height="52" fill="#32cd32"/><rect x="88" y="248" width="3" height="29" fill="#32cd32"/><rect x="93" y="262" width="1" height="35" fill="#ff0000"/><rect x="92" y="265" width="3" height="13" fill="#ff0000"/><rect x="93" y="266" width="1" height="11" fill="#ff4500"/><rect x="97" y="240" width="1" height="30" fill="#ff0000"/><rect x="96" y="256" width="3" height="12" fill="#ff0000"/><rect x="97" y="257" width="1" height="10" fill="#ff4500"/><rect x="101" y="260" width="1" height="4" fill="#ff0000"/><rect x="100" y="261" width="3" height="2" fill="#ff0000"/><rect x="105" y="256" width="1" height="45" fill="#32cd32"/><rect x="104" y="262" width="3" height="33" fill="#32cd32"/><rect x="109" y="268" width="1" height="48" fill="#32cd32"/><rect x="108" y="294" width="3" height="10" fill="#32cd32"/><rect x="113" y="284" width="1" height="59" fill="#32cd32"/><rect x="112" y="303" width="3" height="39" fill="#32cd32"/><rect x="117" y="339" width="1" height="39" fill="#32cd32"/><rect x="116" y="341" width="3" height="34" fill="#32cd32"/><rect x="121" y="359" width="1" height="31" fill="#ff0000"/><rect x="120" y="369" width="3" height="6" fill="#ff0000"/><rect x="121" y="370" width="1" height="4" fill="#ff4500"/><rect x="125" y="372" width="1" height="3" fill="#ff0000"/><rect x="124" y="372" width="3" height="3" fill="#ff0000"/><rect x="125" y="373" width="1" height="1" fill="#ff4500"/><rect x="129" y="366" width="1" height="25" fill="#32cd32"/><rect x="128" y="372" width="3" height="7" fill="#32cd32"/><rect x="133" y="374" width="1" height="29" fill="#32cd32"/><rect x="132" y="378" width="3" height="13" fill="#32cd32"/><rect x="137" y="359" width="1" height="48" fill="#ff0000"/><rect x="136" y="367" width="3" height="24" fill="#ff0000"/><rect x="137" y="368" width="1" height="22" fill="#ff4500"/><rect x="141" y="357" width="1" height="23" fill="#ff0000"/><rect x="140" y="366" width="3" height="3" fill="#ff0000"/><rect x="141" y="367" width="1" height="1" fill="#ff4500"/><rect x="145" y="294" width="1" height="74" fill="#ff0000"/><rect x="144" y="297" width="3" height="70" fill="#ff0000"/><rect x="145" y="298" width="1" height="68" fill="#ff4500"/><rect x="149" y="288" width="1" height="7" fill="#32cd32"/><rect x="148" y="291" width="3" height="4" fill="#32cd32"/><rect x="153" y="250" width="1" height="53" fill="#ff0000"/><rect x="152" y="250" width="3" height="44" fill="#ff0000"/><rect x="153" y="251" width="1" height="42" fill="#ff4500"/><rect x="157" y="230" width="1" height="33" fill="#ff0000"/><rect x="156" y="233" width="3" height="18" fill="#ff0000"/><rect x="157" y="234" width="1" height="16" fill="#ff4500"/><rect x="161" y="223" width="1" height="34" fill="#32cd32"/><rect x="160" y="234" width="3" height="11" fill="#32cd32"/><rect x="165" y="225" width="1" height="24" fill="#ff0000"/><rect x="164" y="232" width="3" height="13" fill="#ff0000"/><rect x="165" y="233" width="1" height="11" fill="#ff4500"/><rect x="169" y="226" width="1" height="74" fill="#32cd32"/><rect x="168" y="232" width="3" height="66" fill="#32cd32"/><rect x="173" y="294" width="1" height="3" fill="#32cd32"/><rect x="172" y="294" width="3" height="3" fill="#32cd32"/><rect x="177" y="287" width="1" height="47" fill="#32cd32"/><rect x="176" y="294" width="3" height="25" fill="#32cd32"/><rect x="181" y="296" width="1" height="45" fill="#ff0000"/><rect x="180" y="299" width="3" height="20" fill="#ff0000"/><rect x="181" y="300" width="1" height="18" fill="#ff4500"/><rect x="185" y="260" width="1" height="40" fill="#ff0000"/><rect x="184" y="277" width="3" height="23" fill="#ff0000"/><rect x="185" y="278" width="1" height="21" fill="#ff4500"/><rect x="189" y="252" width="1" height="51" fill="#ff0000"/><rect x="188" y="266" width="3" height="12" fill="#ff0000"/><rect x="189" y="267" width="1" height="10" fill="#ff4500"/><rect x="193" y="266" width="1" height="26" fill="#32cd32"/><rect x="192" y="266" width="3" height="12" fill="#32cd32"/><rect x="197" y="276" width="1" height="5" fill="#32cd32"/><rect x="196" y="276" width="3" height="5" fill="#32cd32"/><rect x="201" y="275" width="1" height="49" fill="#32cd32"/><rect x="200" y="280" width="3" height="42" fill="#32cd32"/><rect x="205" y="306" width="1" height="27" fill="#ff0000"/><rect x="204" y="313" width="3" height="8" fill="#ff0000"/><rect x="205" y="314" width="1" height="6" fill="#ff4500"/><rect x="209" y="292" width="1" height="29" fill="#ff0000"/><rect x="208" y="309" width="3" height="5" fill="#ff0000"/><rect x="209" y="310" width="1" height="3" fill="#ff4500"/><rect x="213" y="264" width="1" height="48" fill="#ff0000"/><rect x="212" y="274" width="3" height="36" fill="#ff0000"/><rect x="213" y="275" width="1" height="34" fill="#ff4500"/><rect x="217" y="258" width="1" height="78" fill="#32cd32"/><rect x="216" y="275" width="3" height="54" fill="#32cd32"/><rect x="221" y="327" width="1" height="4" fill="#ff0000"/><rect x="220" y="327" width="3" height="4" fill="#ff0000"/><rect x="221" y="328" width="1" height="2" fill="#ff4500"/><rect x="225" y="270" width="1" height="70" fill="#ff0000"/><rect x="224" y="280" width="3" height="49" fill="#ff0000"/><rect x="225" y="281" width="1" height="47" fill="#ff4500"/><rect x="229" y="279" width="1" height="51" fill="#32cd32"/><rect x="228" y="280" width="3" height="16" fill="#32cd32"/><rect x="233" y="266" width="1" height="42" fill="#ff0000"/><rect x="232" y="294" width="3" height="3" fill="#ff0000"/><rect x="233" y="295" width="1" height="1" fill="#ff4500"/><rect x="237" y="284" width="1" height="25" fill="#32cd32"/><rect x="236" y="294" width="3" height="9" fill="#32cd32"/><rect x="241" y="291" width="1" height="37" fill="#32cd32"/><rect x="240" y="303" width="3" height="11" fill="#32cd32"/><rect x="245" y="306" width="1" height="4" fill="#32cd32"/><rect x="244" y="306" width="3" height="4" fill="#32cd32"/><rect x="249" y="283" width="1" height="26" fill="#ff0000"/><rect x="248" y="299" width="3" height="10" fill="#ff0000"/><rect x="249" y="300" width="1" height="8" fill="#ff4500"/><rect x="253" y="258" width="1" height="57" fill="#ff0000"/><rect x="252" y="262" width="3" height="39" fill="#ff0000"/><rect x="253" y="263" width="1" height="37" fill="#ff4500"/><rect x="257" y="229" width="1" height="43" fill="#ff0000"/><rect x="256" y="242" width="3" height="21" fill="#ff0000"/><rect x="257" y="243" width="1" height="19" fill="#ff4500"/><rect x="261" y="239" width="1" height="52" fill="#32cd32"/><rect x="260" y="242" width="3" height="45" fill="#32cd32"/><rect x="265" y="270" width="1" height="29" fill="#ff0000"/><rect x="264" y="274" width="3" height="13" fill="#ff0000"/><rect x="265" y="275" width="1" height="11" fill="#ff4500"/><rect x="269" y="271" width="1" height="4" fill="#ff0000"/><rect x="268" y="271" width="3" height="4" fill="#ff0000"/><rect x="269" y="272" width="1" height="2" fill="#ff4500"/><rect x="273" y="224" width="1" height="51" fill="#ff0000"/><rect x="272" y="239" width="3" height="34" fill="#ff0000"/><rect x="273" y="240" width="1" height="32" fill="#ff4500"/><rect x="277" y="235" width="1" height="39" fill="#32cd32"/><rect x="276" y="239" width="3" height="19" fill="#32cd32"/><rect x="281" y="253" width="1" height="36" fill="#32cd32"/><rect x="280" y="257" width="3" height="4" fill="#32cd32"/><rect x="285" y="194" width="1" height="70" fill="#ff0000"/><rect x="284" y="197" width="3" height="63" fill="#ff0000"/><rect x="285" y="198" width="1" height="61" fill="#ff4500"/><rect x="289" y="156" width="1" height="53" fill="#ff0000"/><rect x="288" y="157" width="3" height="40" fill="#ff0000"/><rect x="289" y="158" width="1" height="38" fill="#ff4500"/><rect x="293" y="157" width="1" height="4" fill="#32cd32"/><rect x="292" y="157" width="3" height="4" fill="#32cd32"/><rect x="297" y="149" width="1" height="52" fill="#32cd32"/><rect x="296" y="159" width="3" height="36" fill="#32cd32"/><rect x="301" y="189" width="1" height="48" fill="#32cd32"/><rect x="300" y="196" width="3" height="34" fill="#32cd32"/><rect x="305" y="198" width="1" height="48" fill="#ff0000"/><rect x="304" y="205" width="3" height="25" fill="#ff0000"/><rect x="305" y="206" width="1" height="23" fill="#ff4500"/><rect x="309" y="197" width="1" height="48" fill="#32cd32"/><rect x="308" y="206" width="3" height="13" fill="#32cd32"/><rect x="313" y="208" width="1" height="32" fill="#ff0000"/><rect x="312" y="216" width="3" height="4" fill="#ff0000"/><rect x="313" y="217" width="1" height="2" fill="#ff4500"/><rect x="317" y="215" width="1" height="7" fill="#32cd32"/><rect x="316" y="217" width="3" height="5" fill="#32cd32"/><rect x="321" y="183" width="1" height="39" fill="#ff0000"/><rect x="320" y="211" width="3" height="10" fill="#ff0000"/><rect x="321" y="212" width="1" height="8" fill="#ff4500"/><rect x="325" y="174" width="1" height="38" fill="#ff0000"/><rect x="324" y="183" width="3" height="28" fill="#ff0000"/><rect x="325" y="184" width="1" height="26" fill="#ff4500"/><rect x="329" y="131" width="1" height="62" fill="#ff0000"/><rect x="328" y="141" width="3" height="43" fill="#ff0000"/><rect x="329" y="142" width="1" height="41" fill="#ff4500"/><rect x="333" y="120" width="1" height="49" fill="#32cd32"/><rect x="332" y="141" width="3" height="14" fill="#32cd32"/><rect x="337" y="145" width="1" height="46" fill="#32cd32"/><rect x="336" y="155" width="3" height="21" fill="#32cd32"/><rect x="341" y="177" width="1" height="6" fill="#32cd32"/><rect x="340" y="178" width="3" height="3" fill="#32cd32"/><rect x="345" y="167" width="1" height="68" fill="#32cd32"/><rect x="344" y="178" width="3" height="40" fill="#32cd32"/><rect x="349" y="186" width="1" height="36" fill="#ff0000"/><rect x="348" y="189" width="3" height="29" fill="#ff0000"/><rect x="349" y="190" width="1" height="27" fill="#ff4500"/><rect x="353" y="170" width="1" height="29" fill="#32cd32"/><rect x="352" y="188" width="3" height="7" fill="#32cd32"/><rect x="357" y="182" width="1" height="34" fill="#ff0000"/><rect x="356" y="188" width="3" height="7" fill="#ff0000"/><rect x="357" y="189" width="1" height="5" fill="#ff4500"/><rect x="361" y="171" width="1" height="40" fill="#32cd32"/><rect x="360" y="188" width="3" height="17" fill="#32cd32"/><rect x="365" y="193" width="1" height="6" fill="#ff0000"/><rect x="364" y="193" width="3" height="6" fill="#ff0000"/><rect x="365" y="194" width="1" height="4" fill="#ff4500"/><rect x="369" y="186" width="1" height="33" fill="#32cd32"/><rect x="368" y="193" width="3" height="4" fill="#32cd32"/><rect x="373" y="165" width="1" height="48" fill="#ff0000"/><rect x="372" y="171" width="3" height="26" fill="#ff0000"/><rect x="373" y="172" width="1" height="24" fill="#ff4500"/><rect x="377" y="169" width="1" height="61" fill="#32cd32"/><rect x="376" y="170" width="3" height="54" fill="#32cd32"/><rect x="381" y="222" width="1" height="41" fill="#ff0000"/><rect x="380" y="222" width="3" height="3" fill="#ff0000"/><rect x="381" y="223" width="1" height="1" fill="#ff4500"/><rect x="385" y="205" width="1" height="34" fill="#32cd32"/><rect x="384" y="222" width="3" height="14" fill="#32cd32"/><rect x="389" y="229" width="1" height="7" fill="#ff0000"/><rect x="388" y="229" width="3" height="5" fill="#ff0000"/><rect x="389" y="230" width="1" height="3" fill="#ff4500"/><rect x="393" y="198" width="1" height="42" fill="#000"/><rect x="392" y="229" width="3" height="1" fill="#000"/><rect x="397" y="227" width="1" height="44" fill="#32cd32"/><rect x="396" y="228" width="3" height="5" fill="#32cd32"/><rect x="401" y="214" width="1" height="56" fill="#32cd32"/><rect x="400" y="233" width="3" height="34" fill="#32cd32"/><rect x="405" y="253" width="1" height="31" fill="#32cd32"/><rect x="404" y="267" width="3" height="7" fill="#32cd32"/><rect x="409" y="270" width="1" height="29" fill="#32cd32"/><rect x="408" y="273" width="3" height="17" fill="#32cd32"/><rect x="413" y="283" width="1" height="8" fill="#ff0000"/><rect x="412" y="284" width="3" height="7" fill="#ff0000"/><rect x="413" y="285" width="1" height="5" fill="#ff4500"/><rect x="417" y="256" width="1" height="44" fill="#ff0000"/><rect x="416" y="258" width="3" height="29" fill="#ff0000"/><rect x="417" y="259" width="1" height="27" fill="#ff4500"/><rect x="421" y="236" width="1" height="33" fill="#32cd32"/><rect x="420" y="259" width="3" height="2" fill="#32cd32"/><rect x="425" y="255" width="1" height="33" fill="#32cd32"/><rect x="424" y="260" width="3" height="14" fill="#32cd32"/><rect x="429" y="262" width="1" height="68" fill="#32cd32"/><rect x="428" y="273" width="3" height="53" fill="#32cd32"/><rect x="433" y="277" width="1" height="62" fill="#ff0000"/><rect x="432" y="295" width="3" height="31" fill="#ff0000"/><rect x="433" y="296" width="1" height="29" fill="#ff4500"/><rect x="437" y="289" width="1" height="5" fill="#ff0000"/><rect x="436" y="289" width="3" height="5" fill="#ff0000"/><rect x="437" y="290" width="1" height="3" fill="#ff4500"/><rect x="441" y="281" width="1" height="70" fill="#32cd32"/><rect x="440" y="290" width="3" height="56" fill="#32cd32"/><rect x="445" y="298" width="1" height="51" fill="#ff0000"/><rect x="444" y="300" width="3" height="47" fill="#ff0000"/><rect x="445" y="301" width="1" height="45" fill="#ff4500"/><rect x="449" y="298" width="1" height="38" fill="#32cd32"/><rect x="448" y="300" width="3" height="29" fill="#32cd32"/><rect x="453" y="303" width="1" height="28" fill="#ff0000"/><rect x="452" y="318" width="3" height="12" fill="#ff0000"/><rect x="453" y="319" width="1" height="10" fill="#ff4500"/><rect x="457" y="278" width="1" height="53" fill="#32cd32"/><rect x="456" y="318" width="3" height="1" fill="#32cd32"/><rect x="461" y="320" width="1" height="7" fill="#32cd32"/><rect x="460" y="321" width="3" height="5" fill="#32cd32"/><rect x="465" y="292" width="1" height="32" fill="#ff0000"/><rect x="464" y="312" width="3" height="12" fill="#ff0000"/><rect x="465" y="313" width="1" height="10" fill="#ff4500"/><rect x="469" y="295" width="1" height="44" fill="#32cd32"/><rect x="468" y="311" width="3" height="21" fill="#32cd32"/><rect x="473" y="269" width="1" height="64" fill="#ff0000"/><rect x="472" y="274" width="3" height="58" fill="#ff0000"/><rect x="473" y="275" width="1" height="56" fill="#ff4500"/><rect x="477" y="238" width="1" height="38" fill="#ff0000"/><rect x="476" y="248" width="3" height="27" fill="#ff0000"/><rect x="477" y="249" width="1" height="25" fill="#ff4500"/><rect x="481" y="227" width="1" height="30" fill="#32cd32"/><rect x="480" y="248" width="3" height="4" fill="#32cd32"/><rect x="485" y="247" width="1" height="5" fill="#ff0000"/><rect x="484" y="248" width="3" height="2" fill="#ff0000"/><rect x="489" y="210" width="1" height="59" fill="#ff0000"/><rect x="488" y="214" width="3" height="35" fill="#ff0000"/><rect x="489" y="215" width="1" height="33" fill="#ff4500"/><rect x="493" y="166" width="1" height="62" fill="#ff0000"/><rect x="492" y="173" width="3" height="42" fill="#ff0000"/><rect x="493" y="174" width="1" height="40" fill="#ff4500"/><rect x="497" y="152" width="1" height="45" fill="#32cd32"/><rect x="496" y="173" width="3" height="16" fill="#32cd32"/><rect x="501" y="183" width="1" height="34" fill="#32cd32"/><rect x="500" y="187" width="3" height="24" fill="#32cd32"/><rect x="505" y="184" width="1" height="34" fill="#ff0000"/><rect x="504" y="188" width="3" height="23" fill="#ff0000"/><rect x="505" y="189" width="1" height="21" fill="#ff4500"/><rect x="509" y="180" width="1" height="11" fill="#ff0000"/><rect x="508" y="181" width="3" height="7" fill="#ff0000"/><rect x="509" y="182" width="1" height="5" fill="#ff4500"/><rect x="513" y="148" width="1" height="56" fill="#ff0000"/><rect x="512" y="154" width="3" height="29" fill="#ff0000"/><rect x="513" y="155" width="1" height="27" fill="#ff4500"/><rect x="517" y="140" width="1" height="36" fill="#ff0000"/><rect x="516" y="148" width="3" height="7" fill="#ff0000"/><rect x="517" y="149" width="1" height="5" fill="#ff4500"/><rect x="521" y="116" width="1" height="38" fill="#ff0000"/><rect x="520" y="143" width="3" height="6" fill="#ff0000"/><rect x="521" y="144" width="1" height="4" fill="#ff4500"/><rect x="525" y="126" width="1" height="31" fill="#ff0000"/><rect x="524" y="133" width="3" height="11" fill="#ff0000"/><rect x="525" y="134" width="1" height="9" fill="#ff4500"/><rect x="529" y="131" width="1" height="115" fill="#32cd32"/><rect x="528" y="132" width="3" height="113" fill="#32cd32"/><rect x="533" y="214" width="1" height="25" fill="#ff0000"/><rect x="532" y="222" width="3" height="13" fill="#ff0000"/><rect x="533" y="223" width="1" height="11" fill="#ff4500"/><rect x="537" y="198" width="1" height="39" fill="#32cd32"/><rect x="536" y="221" width="3" height="14" fill="#32cd32"/><rect x="541" y="203" width="1" height="90" fill="#32cd32"/><rect x="540" y="234" width="3" height="28" fill="#32cd32"/><rect x="545" y="243" width="1" height="40" fill="#ff0000"/><rect x="544" y="253" width="3" height="9" fill="#ff0000"/><rect x="545" y="254" width="1" height="7" fill="#ff4500"/><rect x="549" y="240" width="1" height="36" fill="#32cd32"/><rect x="548" y="253" width="3" height="6" fill="#32cd32"/><rect x="553" y="243" width="1" height="43" fill="#32cd32"/><rect x="552" y="259" width="3" height="19" fill="#32cd32"/><rect x="557" y="268" width="1" height="14" fill="#ff0000"/><rect x="556" y="270" width="3" height="12" fill="#ff0000"/><rect x="557" y="271" width="1" height="10" fill="#ff4500"/><rect x="561" y="201" width="1" height="70" fill="#ff0000"/><rect x="560" y="212" width="3" height="58" fill="#ff0000"/><rect x="561" y="213" width="1" height="56" fill="#ff4500"/><rect x="565" y="196" width="1" height="38" fill="#32cd32"/><rect x="564" y="212" width="3" height="10" fill="#32cd32"/><rect x="569" y="215" width="1" height="49" fill="#32cd32"/><rect x="568" y="221" width="3" height="36" fill="#32cd32"/><rect x="573" y="205" width="1" height="54" fill="#ff0000"/><rect x="572" y="227" width="3" height="30" fill="#ff0000"/><rect x="573" y="228" width="1" height="28" fill="#ff4500"/><rect x="577" y="214" width="1" height="46" fill="#32cd32"/><rect x="576" y="227" width="3" height="24" fill="#32cd32"/><rect x="581" y="247" width="1" height="10" fill="#ff0000"/><rect x="580" y="247" width="3" height="10" fill="#ff0000"/><rect x="581" y="248" width="1" height="8" fill="#ff4500"/><rect x="585" y="212" width="1" height="42" fill="#ff0000"/><rect x="584" y="238" width="3" height="10" fill="#ff0000"/><rect x="585" y="239" width="1" height="8" fill="#ff4500"/><rect x="589" y="221" width="1" height="47" fill="#ff0000"/><rect x="588" y="224" width="3" height="15" fill="#ff0000"/><rect x="589" y="225" width="1" height="13" fill="#ff4500"/><rect x="593" y="181" width="1" height="50" fill="#ff0000"/><rect x="592" y="221" width="3" height="4" fill="#ff0000"/><rect x="593" y="222" width="1" height="2" fill="#ff4500"/><rect x="597" y="211" width="1" height="56" fill="#32cd32"/><rect x="596" y="221" width="3" height="45" fill="#32cd32"/><rect x="601" y="221" width="1" height="59" fill="#ff0000"/><rect x="600" y="227" width="3" height="40" fill="#ff0000"/><rect x="601" y="228" width="1" height="38" fill="#ff4500"/><rect x="605" y="220" width="1" height="12" fill="#32cd32"/><rect x="604" y="223" width="3" height="8" fill="#32cd32"/><rect x="609" y="216" width="1" height="49" fill="#32cd32"/><rect x="608" y="230" width="3" height="14" fill="#32cd32"/><rect x="613" y="213" width="1" height="50" fill="#ff0000"/><rect x="612" y="233" width="3" height="11" fill="#ff0000"/><rect x="613" y="234" width="1" height="9" fill="#ff4500"/><rect x="617" y="215" width="1" height="53" fill="#32cd32"/><rect x="616" y="233" width="3" height="30" fill="#32cd32"/><rect x="621" y="244" width="1" height="34" fill="#32cd32"/><rect x="620" y="262" width="3" height="10" fill="#32cd32"/><rect x="625" y="260" width="1" height="27" fill="#ff0000"/><rect x="624" y="268" width="3" height="4" fill="#ff0000"/><rect x="625" y="269" width="1" height="2" fill="#ff4500"/><rect x="629" y="267" width="1" height="13" fill="#ff0000"/><rect x="628" y="267" width="3" height="5" fill="#ff0000"/><rect x="629" y="268" width="1" height="3" fill="#ff4500"/><rect x="633" y="258" width="1" height="27" fill="#32cd32"/><rect x="632" y="267" width="3" height="15" fill="#32cd32"/><rect x="637" y="265" width="1" height="27" fill="#32cd32"/><rect x="636" y="281" width="3" height="1" fill="#32cd32"/><rect x="641" y="257" width="1" height="62" fill="#32cd32"/><rect x="640" y="281" width="3" height="27" fill="#32cd32"/><rect x="645" y="273" width="1" height="41" fill="#000"/><rect x="644" y="307" width="3" height="1" fill="#000"/><rect x="649" y="300" width="1" height="39" fill="#32cd32"/><rect x="648" y="307" width="3" height="19" fill="#32cd32"/><rect x="653" y="319" width="1" height="19" fill="#ff0000"/><rect x="652" y="323" width="3" height="15" fill="#ff0000"/><rect x="653" y="324" width="1" height="13" fill="#ff4500"/><rect x="657" y="258" width="1" height="70" fill="#ff0000"/><rect x="656" y="272" width="3" height="52" fill="#ff0000"/><rect x="657" y="273" width="1" height="50" fill="#ff4500"/><rect x="661" y="263" width="1" height="46" fill="#32cd32"/><rect x="660" y="271" width="3" height="19" fill="#32cd32"/><rect x="665" y="271" width="1" height="36" fill="#ff0000"/><rect x="664" y="279" width="3" height="11" fill="#ff0000"/><rect x="665" y="280" width="1" height="9" fill="#ff4500"/><rect x="669" y="238" width="1" height="46" fill="#ff0000"/><rect x="668" y="246" width="3" height="33" fill="#ff0000"/><rect x="669" y="247" width="1" height="31" fill="#ff4500"/><rect x="673" y="231" width="1" height="41" fill="#32cd32"/><rect x="672" y="246" width="3" height="25" fill="#32cd32"/><rect x="677" y="264" width="1" height="8" fill="#ff0000"/><rect x="676" y="266" width="3" height="3" fill="#ff0000"/><rect x="677" y="267" width="1" height="1" fill="#ff4500"/><rect x="681" y="196" width="1" height="74" fill="#ff0000"/><rect x="680" y="199" width="3" height="70" fill="#ff0000"/><rect x="681" y="200" width="1" height="68" fill="#ff4500"/><rect x="685" y="194" width="1" height="40" fill="#32cd32"/><rect x="684" y="199" width="3" height="30" fill="#32cd32"/><rect x="689" y="222" width="1" height="94" fill="#32cd32"/><rect x="688" y="229" width="3" height="77" fill="#32cd32"/><rect x="693" y="300" width="1" height="47" fill="#32cd32"/><rect x="692" y="305" width="3" height="26" fill="#32cd32"/><rect x="697" y="305" width="1" height="40" fill="#ff0000"/><rect x="696" y="308" width="3" height="23" fill="#ff0000"/><rect x="697" y="309" width="1" height="21" fill="#ff4500"/><rect x="701" y="300" width="1" height="17" fill="#ff0000"/><rect x="700" y="303" width="3" height="14" fill="#ff0000"/><rect x="701" y="304" width="1" height="12" fill="#ff4500"/><rect x="705" y="292" width="1" height="29" fill="#32cd32"/><rect x="704" y="303" width="3" height="5" fill="#32cd32"/><rect x="709" y="275" width="1" height="39" fill="#ff0000"/><rect x="708" y="281" width="3" height="27" fill="#ff0000"/><rect x="709" y="282" width="1" height="25" fill="#ff4500"/><rect x="713" y="276" width="1" height="28" fill="#32cd32"/><rect x="712" y="281" width="3" height="13" fill="#32cd32"/><rect x="717" y="273" width="1" height="35" fill="#ff0000"/><rect x="716" y="283" width="3" height="11" fill="#ff0000"/><rect x="717" y="284" width="1" height="9" fill="#ff4500"/><rect x="721" y="280" width="1" height="54" fill="#32cd32"/><rect x="720" y="283" width="3" height="44" fill="#32cd32"/><rect x="725" y="318" width="1" height="13" fill="#ff0000"/><rect x="724" y="318" width="3" height="13" fill="#ff0000"/><rect x="725" y="319" width="1" height="11" fill="#ff4500"/><rect x="729" y="292" width="1" height="41" fill="#ff0000"/><rect x="728" y="306" width="3" height="12" fill="#ff0000"/><rect x="729" y="307" width="1" height="10" fill="#ff4500"/><rect x="733" y="255" width="1" height="53" fill="#ff0000"/><rect x="732" y="275" width="3" height="32" fill="#ff0000"/><rect x="733" y="276" width="1" height="30" fill="#ff4500"/><rect x="737" y="220" width="1" height="61" fill="#ff0000"/><rect x="736" y="225" width="3" height="50" fill="#ff0000"/><rect x="737" y="226" width="1" height="48" fill="#ff4500"/><rect x="741" y="145" width="1" height="83" fill="#ff0000"/><rect x="740" y="168" width="3" height="58" fill="#ff0000"/><rect x="741" y="169" width="1" height="56" fill="#ff4500"/><rect x="745" y="152" width="1" height="33" fill="#32cd32"/><rect x="744" y="167" width="3" height="2" fill="#32cd32"/><rect x="749" y="161" width="1" height="13" fill="#ff0000"/><rect x="748" y="166" width="3" height="7" fill="#ff0000"/><rect x="749" y="167" width="1" height="5" fill="#ff4500"/><rect x="753" y="141" width="1" height="76" fill="#32cd32"/><rect x="752" y="166" width="3" height="35" fill="#32cd32"/><rect x="757" y="195" width="1" height="60" fill="#32cd32"/><rect x="756" y="200" width="3" height="50" fill="#32cd32"/><rect x="761" y="240" width="1" height="37" fill="#32cd32"/><rect x="760" y="249" width="3" height="17" fill="#32cd32"/><rect x="765" y="229" width="1" height="48" fill="#ff0000"/><rect x="764" y="255" width="3" height="11" fill="#ff0000"/><rect x="765" y="256" width="1" height="9" fill="#ff4500"/><rect x="769" y="210" width="1" height="54" fill="#ff0000"/><rect x="768" y="213" width="3" height="42" fill="#ff0000"/><rect x="769" y="214" width="1" height="40" fill="#ff4500"/><rect x="773" y="212" width="1" height="7" fill="#32cd32"/><rect x="772" y="212" width="3" height="7" fill="#32cd32"/><rect x="777" y="207" width="1" height="34" fill="#32cd32"/><rect x="776" y="215" width="3" height="19" fill="#32cd32"/><rect x="781" y="206" width="1" height="32" fill="#ff0000"/><rect x="780" y="216" width="3" height="18" fill="#ff0000"/><rect x="781" y="217" width="1" height="16" fill="#ff4500"/><rect x="785" y="213" width="1" height="28" fill="#32cd32"/><rect x="784" y="216" width="3" height="8" fill="#32cd32"/><rect x="789" y="178" width="1" height="58" fill="#ff0000"/><rect x="788" y="210" width="3" height="14" fill="#ff0000"/><rect x="789" y="211" width="1" height="12" fill="#ff4500"/><rect x="793" y="187" width="1" height="38" fill="#32cd32"/><rect x="792" y="210" width="3" height="5" fill="#32cd32"/><rect x="797" y="214" width="1" height="9" fill="#ff0000"/><rect x="796" y="218" width="3" height="5" fill="#ff0000"/><rect x="797" y="219" width="1" height="3" fill="#ff4500"/><rect x="801" y="199" width="1" height="29" fill="#32cd32"/><rect x="800" y="219" width="3" height="3" fill="#32cd32"/><rect x="805" y="197" width="1" height="39" fill="#ff0000"/><rect x="804" y="213" width="3" height="9" fill="#ff0000"/><rect x="805" y="214" width="1" height="7" fill="#ff4500"/><rect x="809" y="208" width="1" height="46" fill="#32cd32"/><rect x="808" y="212" width="3" height="31" fill="#32cd32"/><rect x="813" y="234" width="1" height="34" fill="#32cd32"/><rect x="812" y="242" width="3" height="18" fill="#32cd32"/><rect x="817" y="243" width="1" height="23" fill="#ff0000"/><rect x="816" y="249" width="3" height="11" fill="#ff0000"/><rect x="817" y="250" width="1" height="9" fill="#ff4500"/><rect x="821" y="247" width="1" height="7" fill="#32cd32"/><rect x="820" y="249" width="3" height="2" fill="#32cd32"/><rect x="825" y="244" width="1" height="55" fill="#32cd32"/><rect x="824" y="250" width="3" height="42" fill="#32cd32"/><rect x="829" y="236" width="1" height="62" fill="#ff0000"/><rect x="828" y="245" width="3" height="47" fill="#ff0000"/><rect x="829" y="246" width="1" height="45" fill="#ff4500"/><rect x="833" y="242" width="1" height="43" fill="#32cd32"/><rect x="832" y="245" width="3" height="34" fill="#32cd32"/><rect x="837" y="185" width="1" height="96" fill="#ff0000"/><rect x="836" y="210" width="3" height="69" fill="#ff0000"/><rect x="837" y="211" width="1" height="67" fill="#ff4500"/><rect x="841" y="189" width="1" height="43" fill="#ff0000"/><rect x="840" y="205" width="3" height="7" fill="#ff0000"/><rect x="841" y="206" width="1" height="5" fill="#ff4500"/><rect x="845" y="196" width="1" height="22" fill="#ff0000"/><rect x="844" y="202" width="3" height="7" fill="#ff0000"/><rect x="845" y="203" width="1" height="5" fill="#ff4500"/><rect x="849" y="194" width="1" height="92" fill="#32cd32"/><rect x="848" y="203" width="3" height="75" fill="#32cd32"/><rect x="853" y="253" width="1" height="46" fill="#ff0000"/><rect x="852" y="269" width="3" height="9" fill="#ff0000"/><rect x="853" y="270" width="1" height="7" fill="#ff4500"/><rect x="857" y="225" width="1" height="61" fill="#ff0000"/><rect x="856" y="253" width="3" height="17" fill="#ff0000"/><rect x="857" y="254" width="1" height="15" fill="#ff4500"/><rect x="861" y="244" width="1" height="39" fill="#32cd32"/><rect x="860" y="253" width="3" height="22" fill="#32cd32"/><rect x="865" y="249" width="1" height="37" fill="#ff0000"/><rect x="864" y="272" width="3" height="3" fill="#ff0000"/><rect x="865" y="273" width="1" height="1" fill="#ff4500"/><rect x="869" y="254" width="1" height="33" fill="#ff0000"/><rect x="868" y="256" width="3" height="31" fill="#ff0000"/><rect x="869" y="257" width="1" height="29" fill="#ff4500"/><rect x="873" y="199" width="1" height="65" fill="#ff0000"/><rect x="872" y="213" width="3" height="44" fill="#ff0000"/><rect x="873" y="214" width="1" height="42" fill="#ff4500"/><rect x="877" y="171" width="1" height="48" fill="#ff0000"/><rect x="876" y="179" width="3" height="35" fill="#ff0000"/><rect x="877" y="180" width="1" height="33" fill="#ff4500"/><rect x="881" y="177" width="1" height="41" fill="#32cd32"/><rect x="880" y="179" width="3" height="26" fill="#32cd32"/><rect x="885" y="169" width="1" height="45" fill="#ff0000"/><rect x="884" y="181" width="3" height="24" fill="#ff0000"/><rect x="885" y="182" width="1" height="22" fill="#ff4500"/><rect x="889" y="135" width="1" height="50" fill="#ff0000"/><rect x="888" y="136" width="3" height="46" fill="#ff0000"/><rect x="889" y="137" width="1" height="44" fill="#ff4500"/><rect x="893" y="135" width="1" height="6" fill="#32cd32"/><rect x="892" y="137" width="3" height="1" fill="#32cd32"/><rect x="897" y="105" width="1" height="56" fill="#ff0000"/><rect x="896" y="106" width="3" height="32" fill="#ff0000"/><rect x="897" y="107" width="1" height="30" fill="#ff4500"/><rect x="901" y="68" width="1" height="50" fill="#ff0000"/><rect x="900" y="87" width="3" height="21" fill="#ff0000"/><rect x="901" y="88" width="1" height="19" fill="#ff4500"/><rect x="905" y="45" width="1" height="58" fill="#ff0000"/><rect x="904" y="81" width="3" height="7" fill="#ff0000"/><rect x="905" y="82" width="1" height="5" fill="#ff4500"/><rect x="909" y="80" width="1" height="67" fill="#32cd32"/><rect x="908" y="81" width="3" height="46" fill="#32cd32"/><rect x="913" y="109" width="1" height="55" fill="#32cd32"/><rect x="912" y="126" width="3" height="36" fill="#32cd32"/><rect x="917" y="150" width="1" height="6" fill="#ff0000"/><rect x="916" y="151" width="3" height="5" fill="#ff0000"/><rect x="917" y="152" width="1" height="3" fill="#ff4500"/><rect x="921" y="133" width="1" height="49" fill="#ff0000"/><rect x="920" y="143" width="3" height="10" fill="#ff0000"/><rect x="921" y="144" width="1" height="8" fill="#ff4500"/><rect x="925" y="114" width="1" height="52" fill="#32cd32"/><rect x="924" y="143" width="3" height="8" fill="#32cd32"/></g><g shape-rendering="crispEdges" clip-path="url(#c2)"><rect x="4" y="429" width="3" height="34" fill="#c0c0c0"/><rect x="8" y="428" width="3" height="34" fill="#c0c0c0"/><rect x="12" y="427" width="3" height="35" fill="#c0c0c0"/><rect x="16" y="425" width="3" height="38" fill="#c0c0c0"/><rect x="20" y="423" width="3" height="40" fill="#c0c0c0"/><rect x="24" y="424" width="3" height="38" fill="#c0c0c0"/><rect x="28" y="426" width="3" height="37" fill="#c0c0c0"/><rect x="32" y="427" width="3" height="36" fill="#c0c0c0"/><rect x="36" y="427" width="3" height="36" fill="#c0c0c0"/><rect x="40" y="426" width="3" height="36" fill="#c0c0c0"/><rect x="44" y="433" width="3" height="30" fill="#c0c0c0"/><rect x="48" y="439" width="3" height="24" fill="#c0c0c0"/><rect x="52" y="444" width="3" height="19" fill="#c0c0c0"/><rect x="56" y="447" width="3" height="15" fill="#c0c0c0"/><rect x="60" y="448" width="3" height="15" fill="#c0c0c0"/><rect x="64" y="451" width="3" height="12" fill="#c0c0c0"/><rect x="68" y="452" width="3" height="11" fill="#c0c0c0"/><rect x="72" y="451" width="3" height="11" fill="#c0c0c0"/><rect x="76" y="452" width="3" height="11" fill="#c0c0c0"/><rect x="80" y="452" width="3" height="10" fill="#c0c0c0"/><rect x="84" y="451" width="3" height="11" fill="#c0c0c0"/><rect x="88" y="452" width="3" height="10" fill="#c0c0c0"/><rect x="92" y="453" width="3" height="10" fill="#c0c0c0"/><rect x="96" y="453" width="3" height="10" fill="#c0c0c0"/><rect x="100" y="453" width="3" height="10" fill="#c0c0c0"/><rect x="104" y="456" width="3" height="7" fill="#c0c0c0"/><rect x="108" y="458" width="3" height="4" fill="#c0c0c0"/><rect x="112" y="462" width="3" height="1" fill="#c0c0c0"/><rect x="116" y="462" width="3" height="7" fill="#c0c0c0"/><rect x="120" y="462" width="3" height="12" fill="#c0c0c0"/><rect x="124" y="462" width="3" height="15" fill="#c0c0c0"/><rect x="128" y="462" width="3" height="18" fill="#c0c0c0"/><rect x="132" y="462" width="3" height="21" fill="#c0c0c0"/><rect x="136" y="462" width="3" height="22" fill="#c0c0c0"/><rect x="140" y="462" width="3" height="22" fill="#c0c0c0"/><rect x="144" y="462" width="3" height="17" fill="#c0c0c0"/><rect x="148" y="462" width="3" height="12" fill="#c0c0c0"/><rect x="152" y="462" width="3" height="6" fill="#c0c0c0"/><rect x="156" y="461" width="3" height="1" fill="#c0c0c0"/><rect x="160" y="457" width="3" height="5" fill="#c0c0c0"/><rect x="164" y="453" width="3" height="9" fill="#c0c0c0"/><rect x="168" y="454" width="3" height="8" fill="#c0c0c0"/><rect x="172" y="456" width="3" height="7" fill="#c0c0c0"/><rect x="176" y="458" width="3" height="4" fill="#c0c0c0"/><rect x="180" y="459" width="3" height="4" fill="#c0c0c0"/><rect x="184" y="458" width="3" height="5" fill="#c0c0c0"/><rect x="188" y="456" width="3" height="6" fill="#c0c0c0"/><rect x="192" y="456" width="3" height="6" fill="#c0c0c0"/><rect x="196" y="456" width="3" height="6" fill="#c0c0c0"/><rect x="200" y="459" width="3" height="3" fill="#c0c0c0"/><rect x="204" y="461" width="3" height="2" fill="#c0c0c0"/><rect x="208" y="462" width="3" height="1" fill="#c0c0c0"/><rect x="212" y="460" width="3" height="2" fill="#c0c0c0"/><rect x="216" y="462" width="3" height="1" fill="#c0c0c0"/><rect x="220" y="462" width="3" height="3" fill="#c0c0c0"/><rect x="224" y="462" width="3" height="1" fill="#c0c0c0"/><rect x="228" y="462" width="3" height="1" fill="#c0c0c0"/><rect x="232" y="462" width="3" height="1" fill="#c0c0c0"/><rect x="236" y="462" width="3" height="1" fill="#c0c0c0"/><rect x="240" y="462" width="3" height="1" fill="#c0c0c0"/><rect x="244" y="462" width="3" height="2" fill="#c0c0c0"/><rect x="248" y="462" width="3" height="2" fill="#c0c0c0"/><rect x="252" y="461" width="3" height="1" fill="#c0c0c0"/><rect x="256" y="457" width="3" height="5" fill="#c0c0c0"/><rect x="260" y="458" width="3" height="5" fill="#c0c0c0"/><rect x="264" y="457" width="3" height="5" fill="#c0c0c0"/><rect x="268" y="456" width="3" height="6" fill="#c0c0c0"/><rect x="272" y="454" width="3" height="9" fill="#c0c0c0"/><rect x="276" y="453" width="3" height="9" fill="#c0c0c0"/><rect x="280" y="453" width="3" height="10" fill="#c0c0c0"/><rect x="284" y="448" width="3" height="14" fill="#c0c0c0"/><rect x="288" y="442" width="3" height="20" fill="#c0c0c0"/><rect x="292" y="438" width="3" height="25" fill="#c0c0c0"/><rect x="296" y="437" width="3" height="26" fill="#c0c0c0"/><rect x="300" y="439" width="3" height="23" fill="#c0c0c0"/><rect x="304" y="439" width="3" height="23" fill="#c0c0c0"/><rect x="308" y="441" width="3" height="22" fill="#c0c0c0"/><rect x="312" y="442" width="3" height="21" fill="#c0c0c0"/><rect x="316" y="443" width="3" height="19" fill="#c0c0c0"/><rect x="320" y="444" width="3" height="18" fill="#c0c0c0"/><rect x="324" y="443" width="3" height="20" fill="#c0c0c0"/><rect x="328" y="439" width="3" height="23" fill="#c0c0c0"/><rect x="332" y="437" width="3" height="25" fill="#c0c0c0"/><rect x="336" y="438" width="3" height="25" fill="#c0c0c0"/><rect x="340" y="439" width="3" height="24" fill="#c0c0c0"/><rect x="344" y="442" width="3" height="20" fill="#c0c0c0"/><rect x="348" y="443" width="3" height="19" fill="#c0c0c0"/><rect x="352" y="445" width="3" height="17" fill="#c0c0c0"/><rect x="356" y="446" width="3" height="17" fill="#c0c0c0"/><rect x="360" y="448" width="3" height="15" fill="#c0c0c0"/><rect x="364" y="449" width="3" height="14" fill="#c0c0c0"/><rect x="368" y="450" width="3" height="12" fill="#c0c0c0"/><rect x="372" y="449" width="3" height="13" fill="#c0c0c0"/><rect x="376" y="452" width="3" height="10" fill="#c0c0c0"/><rect x="380" y="455" width="3" height="7" fill="#c0c0c0"/><rect x="384" y="458" width="3" height="4" fill="#c0c0c0"/><rect x="388" y="460" width="3" height="2" fill="#c0c0c0"/><rect x="392" y="462" width="3" height="1" fill="#c0c0c0"/><rect x="396" y="462" width="3" height="1" fill="#c0c0c0"/><rect x="400" y="462" width="3" height="4" fill="#c0c0c0"/><rect x="404" y="462" width="3" height="8" fill="#c0c0c0"/><rect x="408" y="462" width="3" height="11" fill="#c0c0c0"/><rect x="412" y="462" width="3" height="13" fill="#c0c0c0"/><rect x="416" y="462" width="3" height="13" fill="#c0c0c0"/><rect x="420" y="462" width="3" height="13" fill="#c0c0c0"/><rect x="424" y="462" width="3" height="14" fill="#c0c0c0"/><rect x="428" y="462" width="3" height="18" fill="#c0c0c0"/><rect x="432" y="462" width="3" height="19" fill="#c0c0c0"/><rect x="436" y="462" width="3" height="19" fill="#c0c0c0"/><rect x="440" y="462" width="3" height="22" fill="#c0c0c0"/><rect x="444" y="462" width="3" height="22" fill="#c0c0c0"/><rect x="448" y="462" width="3" height="23" fill="#c0c0c0"/><rect x="452" y="462" width="3" height="23" fill="#c0c0c0"/><rect x="456" y="462" width="3" height="23" fill="#c0c0c0"/><rect x="460" y="462" width="3" height="23" fill="#c0c0c0"/><rect x="464" y="462" width="3" height="22" fill="#c0c0c0"/><rect x="468" y="462" width="3" height="22" fill="#c0c0c0"/><rect x="472" y="462" width="3" height="18" fill="#c0c0c0"/><rect x="476" y="462" width="3" height="13" fill="#c0c0c0"/><rect x="480" y="462" width="3" height="9" fill="#c0c0c0"/><rect x="484" y="462" width="3" height="5" fill="#c0c0c0"/><rect x="488" y="462" width="3" height="1" fill="#c0c0c0"/><rect x="492" y="456" width="3" height="7" fill="#c0c0c0"/><rect x="496" y="451" width="3" height="11" fill="#c0c0c0"/><rect x="500" y="449" width="3" height="13" fill="#c0c0c0"/><rect x="504" y="447" width="3" height="16" fill="#c0c0c0"/><rect x="508" y="444" width="3" height="18" fill="#c0c0c0"/><rect x="512" y="441" width="3" height="22" fill="#c0c0c0"/><rect x="516" y="438" width="3" height="25" fill="#c0c0c0"/><rect x="520" y="435" width="3" height="27" fill="#c0c0c0"/><rect x="524" y="433" width="3" height="30" fill="#c0c0c0"/><rect x="528" y="439" width="3" height="23" fill="#c0c0c0"/><rect x="532" y="443" width="3" height="20" fill="#c0c0c0"/><rect x="536" y="447" width="3" height="16" fill="#c0c0c0"/><rect x="540" y="452" width="3" height="10" fill="#c0c0c0"/><rect x="544" y="456" width="3" height="7" fill="#c0c0c0"/><rect x="548" y="459" width="3" height="3" fill="#c0c0c0"/><rect x="552" y="462" width="3" height="1" fill="#c0c0c0"/><rect x="556" y="462" width="3" height="3" fill="#c0c0c0"/><rect x="560" y="462" width="3" height="1" fill="#c0c0c0"/><rect x="564" y="462" width="3" height="1" fill="#c0c0c0"/><rect x="568" y="462" width="3" height="2" fill="#c0c0c0"/><rect x="572" y="462" width="3" height="1" fill="#c0c0c0"/><rect x="576" y="462" width="3" height="2" fill="#c0c0c0"/><rect x="580" y="462" width="3" height="3" fill="#c0c0c0"/><rect x="584" y="462" width="3" height="2" fill="#c0c0c0"/><rect x="588" y="462" width="3" height="1" fill="#c0c0c0"/><rect x="592" y="462" width="3" height="1" fill="#c0c0c0"/><rect x="596" y="462" width="3" height="2" fill="#c0c0c0"/><rect x="600" y="462" width="3" height="1" fill="#c0c0c0"/><rect x="604" y="462" width="3" height="1" fill="#c0c0c0"/><rect x="608" y="462" width="3" height="1" fill="#c0c0c0"/><rect x="612" y="462" width="3" height="1" fill="#c0c0c0"/><rect x="616" y="462" width="3" height="2" fill="#c0c0c0"/><rect x="620" y="462" width="3" height="4" fill="#c0c0c0"/><rect x="624" y="462" width="3" height="6" fill="#c0c0c0"/><rect x="628" y="462" width="3" height="7" fill="#c0c0c0"/><rect x="632" y="462" width="3" height="8" fill="#c0c0c0"/><rect x="636" y="462" width="3" height="9" fill="#c0c0c0"/><rect x="640" y="462" width="3" height="12" fill="#c0c0c0"/><rect x="644" y="462" width="3" height="14" fill="#c0c0c0"/><rect x="648" y="462" width="3" height="17" fill="#c0c0c0"/><rect x="652" y="462" width="3" height="18" fill="#c0c0c0"/><rect x="656" y="462" width="3" height="16" fill="#c0c0c0"/><rect x="660" y="462" width="3" height="15" fill="#c0c0c0"/><rect x="664" y="462" width="3" height="13" fill="#c0c0c0"/><rect x="668" y="462" width="3" height="10" fill="#c0c0c0"/><rect x="672" y="462" width="3" height="8" fill="#c0c0c0"/><rect x="676" y="462" width="3" height="7" fill="#c0c0c0"/><rect x="680" y="462" width="3" height="1" fill="#c0c0c0"/><rect x="684" y="461" width="3" height="2" fill="#c0c0c0"/><rect x="688" y="462" width="3" height="2" fill="#c0c0c0"/><rect x="692" y="462" width="3" height="6" fill="#c0c0c0"/><rect x="696" y="462" width="3" height="8" fill="#c0c0c0"/><rect x="700" y="462" width="3" height="9" fill="#c0c0c0"/><rect x="704" y="462" width="3" height="10" fill="#c0c0c0"/><rect x="708" y="462" width="3" height="9" fill="#c0c0c0"/><rect x="712" y="462" width="3" height="9" fill="#c0c0c0"/><rect x="716" y="462" width="3" height="8" fill="#c0c0c0"/><rect x="720" y="462" width="3" height="10" fill="#c0c0c0"/><rect x="724" y="462" width="3" height="11" fill="#c0c0c0"/><rect x="728" y="462" width="3" height="11" fill="#c0c0c0"/><rect x="732" y="462" width="3" height="8" fill="#c0c0c0"/><rect x="736" y="462" width="3" height="3" fill="#c0c0c0"/><rect x="740" y="457" width="3" height="6" fill="#c0c0c0"/><rect x="744" y="450" width="3" height="12" fill="#c0c0c0"/><rect x="748" y="445" width="3" height="17" fill="#c0c0c0"/><rect x="752" y="444" width="3" height="19" fill="#c0c0c0"/><rect x="756" y="446" width="3" height="16" fill="#c0c0c0"/><rect x="760" y="450" width="3" height="13" fill="#c0c0c0"/><rect x="764" y="452" width="3" height="11" fill="#c0c0c0"/><rect x="768" y="450" width="3" height="12" fill="#c0c0c0"/><rect x="772" y="450" width="3" height="12" fill="#c0c0c0"/><rect x="776" y="451" width="3" height="12" fill="#c0c0c0"/><rect x="780" y="450" width="3" height="12" fill="#c0c0c0"/><rect x="784" y="451" width="3" height="12" fill="#c0c0c0"/><rect x="788" y="450" width="3" height="12" fill="#c0c0c0"/><rect x="792" y="450" width="3" height="12" fill="#c0c0c0"/><rect x="796" y="451" width="3" height="12" fill="#c0c0c0"/><rect x="800" y="451" width="3" height="11" fill="#c0c0c0"/><rect x="804" y="451" width="3" height="11" fill="#c0c0c0"/><rect x="808" y="454" width="3" height="9" fill="#c0c0c0"/><rect x="812" y="457" width="3" height="6" fill="#c0c0c0"/><rect x="816" y="458" width="3" height="4" fill="#c0c0c0"/><rect x="820" y="460" width="3" height="3" fill="#c0c0c0"/><rect x="824" y="462" width="3" height="2" fill="#c0c0c0"/><rect x="828" y="462" width="3" height="2" fill="#c0c0c0"/><rect x="832" y="462" width="3" height="4" fill="#c0c0c0"/><rect x="836" y="462" width="3" height="1" fill="#c0c0c0"/><rect x="840" y="460" width="3" height="2" fill="#c0c0c0"/><rect x="844" y="458" width="3" height="4" fill="#c0c0c0"/><rect x="848" y="461" width="3" height="1" fill="#c0c0c0"/><rect x="852" y="462" width="3" height="1" fill="#c0c0c0"/><rect x="856" y="462" width="3" height="2" fill="#c0c0c0"/><rect x="860" y="462" width="3" height="4" fill="#c0c0c0"/><rect x="864" y="462" width="3" height="5" fill="#c0c0c0"/><rect x="868" y="462" width="3" height="5" fill="#c0c0c0"/><rect x="872" y="462" width="3" height="2" fill="#c0c0c0"/><rect x="876" y="459" width="3" height="3" fill="#c0c0c0"/><rect x="880" y="457" width="3" height="5" fill="#c0c0c0"/><rect x="884" y="454" width="3" height="9" fill="#c0c0c0"/><rect x="888" y="448" width="3" height="14" fill="#c0c0c0"/><rect x="892" y="444" width="3" height="18" fill="#c0c0c0"/><rect x="896" y="439" width="3" height="24" fill="#c0c0c0"/><rect x="900" y="434" width="3" height="29" fill="#c0c0c0"/><rect x="904" y="429" width="3" height="33" fill="#c0c0c0"/><rect x="908" y="430" width="3" height="33" fill="#c0c0c0"/><rect x="912" y="433" width="3" height="30" fill="#c0c0c0"/><rect x="916" y="435" width="3" height="27" fill="#c0c0c0"/><rect x="920" y="436" width="3" height="26" fill="#c0c0c0"/><rect x="924" y="438" width="3" height="24" fill="#c0c0c0"/></g><path d="M5 435h1v1h-1zM6 434h1v1h-1zM7 433h1v1h-1zM8 432h1v1h-1zM9 431h1v1h-1zM10 430h2v1h-2zM12 429h3v1h-3zM15 428h4v1h-4zM19 427h4v1h-4zM23 426h16v1h-16zM39 425h4v1h-4zM43 426h4v1h-4zM47 427h3v1h-3zM50 428h2v1h-2zM52 429h2v1h-2zM54 430h1v1h-1zM55 431h2v1h-2zM57 432h1v1h-1zM58 433h2v1h-2zM60 434h2v1h-2zM62 435h1v1h-1zM63 436h2v1h-2zM65 437h1v1h-1zM66 438h1v1h-1zM67 439h2v1h-2zM69 440h1v1h-1zM70 441h1v1h-1zM71 442h2v1h-2zM73 443h1v1h-1zM74 444h1v1h-1zM75 445h2v1h-2zM77 446h1v1h-1zM78 447h2v1h-2zM80 448h3v1h-3zM83 449h4v1h-4zM87 450h4v1h-4zM91 451h8v1h-8zM99 452h8v1h-8zM107 453h4v1h-4zM111 454h3v1h-3zM114 455h2v1h-2zM116 456h2v1h-2zM118 457h1v1h-1zM119 458h2v1h-2zM121 459h1v1h-1zM122 460h2v1h-2zM124 461h2v1h-2zM126 462h1v1h-1zM127 463h2v1h-2zM129 464h1v1h-1zM130 465h1v1h-1zM131 466h1v1h-1zM132 467h1v1h-1zM133 468h1v1h-1zM134 469h1v1h-1zM135 470h2v1h-2zM137 471h1v1h-1zM138 472h1v1h-1zM139 473h1v1h-1zM140 474h1v1h-1zM141 475h1v1h-1zM142 476h2v1h-2zM144 477h3v1h-3zM147 478h8v1h-8zM155 477h3v1h-3zM158 476h1v1h-1zM159 475h2v1h-2zM161 474h1v1h-1zM162 473h1v1h-1zM163 472h2v1h-2zM165 471h1v1h-1zM166 470h1v1h-1zM167 469h2v1h-2zM169 468h1v1h-1zM170 467h1v1h-1zM171 466h2v1h-2zM173 465h1v1h-1zM174 464h1v1h-1zM175 463h2v1h-2zM177 462h1v1h-1zM178 461h2v1h-2zM180 460h2v1h-2zM182 459h2v1h-2zM184 458h2v1h-2zM186 457h2v1h-2zM188 456h15v1h-15zM203 457h4v1h-4zM207 458h8v1h-8zM215 459h8v1h-8zM223 460h4v1h-4zM227 461h4v1h-4zM231 462h12v1h-12zM243 463h12v1h-12zM255 462h4v1h-4zM259 461h8v1h-8zM267 460h4v1h-4zM271 459h4v1h-4zM275 458h4v1h-4zM279 457h3v1h-3zM282 456h2v1h-2zM284 455h2v1h-2zM286 454h2v1h-2zM288 453h2v1h-2zM290 452h1v1h-1zM291 451h2v1h-2zM293 450h1v1h-1zM294 449h2v1h-2zM296 448h2v1h-2zM298 447h2v1h-2zM300 446h2v1h-2zM302 445h2v1h-2zM304 444h3v1h-3zM307 443h3v1h-3zM310 442h2v1h-2zM312 441h3v1h-3zM315 440h36v1h-36zM351 441h11v1h-11zM362 442h2v1h-2zM364 443h3v1h-3zM367 444h4v1h-4zM371 445h3v1h-3zM374 446h2v1h-2zM376 447h3v1h-3zM379 448h3v1h-3zM382 449h2v1h-2zM384 450h3v1h-3zM387 451h3v1h-3zM390 452h2v1h-2zM392 453h2v1h-2zM394 454h2v1h-2zM396 455h2v1h-2zM398 456h2v1h-2zM400 457h2v1h-2zM402 458h2v1h-2zM404 459h2v1h-2zM406 460h1v1h-1zM407 461h2v1h-2zM409 462h1v1h-1zM410 463h2v1h-2zM412 464h2v1h-2zM414 465h1v1h-1zM415 466h2v1h-2zM417 467h1v1h-1zM418 468h2v1h-2zM420 469h3v1h-3zM423 470h3v1h-3zM426 471h2v1h-2zM428 472h2v1h-2zM430 473h2v1h-2zM432 474h2v1h-2zM434 475h2v1h-2zM436 476h2v1h-2zM438 477h2v1h-2zM440 478h3v1h-3zM443 479h4v1h-4zM447 480h4v1h-4zM451 481h4v1h-4zM455 482h4v1h-4zM459 483h4v1h-4zM463 484h12v1h-12zM475 483h4v1h-4zM479 482h3v1h-3zM482 481h2v1h-2zM484 480h2v1h-2zM486 479h1v1h-1zM487 478h2v1h-2zM489 477h1v1h-1zM490 476h1v1h-1zM491 475h2v1h-2zM493 474h1v1h-1zM494 473h1v1h-1zM495 472h1v1h-1zM496 471h1v1h-1zM497 470h1v1h-1zM498 469h1v1h-1zM499 468h1v1h-1zM500 467h1v1h-1zM501 466h1v1h-1zM502 465h1v1h-1zM503 464h1v1h-1zM504 463h1v1h-1zM505 462h1v1h-1zM506 461h1v1h-1zM507 460h1v1h-1zM508 459h1v1h-1zM509 458h1v1h-1zM510 457h1v1h-1zM511 456h1v1h-1zM512 455h1v1h-1zM513 454h1v1h-1zM514 453h1v1h-1zM515 452h1v1h-1zM516 451h1v1h-1zM517 450h1v1h-1zM518 449h1v1h-1zM519 448h1v1h-1zM520 447h1v1h-1zM521 446h1v1h-1zM522 445h1v1h-1zM523 444h2v1h-2zM525 443h1v1h-1zM526 442h2v1h-2zM528 441h3v1h-3zM531 440h8v1h-8zM539 441h4v1h-4zM543 442h3v1h-3zM546 443h2v1h-2zM548 444h2v1h-2zM550 445h1v1h-1zM551 446h2v1h-2zM553 447h1v1h-1zM554 448h1v1h-1zM555 449h2v1h-2zM557 450h1v1h-1zM558 451h1v1h-1zM559 452h1v1h-1zM560 453h1v1h-1zM561 454h1v1h-1zM562 455h2v1h-2zM564 456h2v1h-2zM566 457h1v1h-1zM567 458h2v1h-2zM569 459h2v1h-2zM571 460h3v1h-3zM574 461h2v1h-2zM576 462h3v1h-3zM579 463h8v1h-8zM587 464h4v1h-4zM591 463h32v1h-32zM623 464h4v1h-4zM627 465h8v1h-8zM635 466h3v1h-3zM638 467h2v1h-2zM640 468h3v1h-3zM643 469h3v1h-3zM646 470h2v1h-2zM648 471h2v1h-2zM650 472h2v1h-2zM652 473h3v1h-3zM655 474h4v1h-4zM659 475h4v1h-4zM663 476h12v1h-12zM675 475h4v1h-4zM679 474h3v1h-3zM682 473h2v1h-2zM684 472h2v1h-2zM686 471h2v1h-2zM688 470h3v1h-3zM691 469h4v1h-4zM695 468h4v1h-4zM699 467h12v1h-12zM711 468h7v1h-7zM718 469h2v1h-2zM720 470h3v1h-3zM723 471h15v1h-15zM738 470h2v1h-2zM740 469h2v1h-2zM742 468h1v1h-1zM743 467h2v1h-2zM745 466h1v1h-1zM746 465h2v1h-2zM748 464h2v1h-2zM750 463h1v1h-1zM751 462h2v1h-2zM753 461h1v1h-1zM754 460h1v1h-1zM755 459h2v1h-2zM757 458h1v1h-1zM758 457h1v1h-1zM759 456h2v1h-2zM761 455h1v1h-1zM762 454h2v1h-2zM764 453h2v1h-2zM766 452h2v1h-2zM768 451h2v1h-2zM770 450h2v1h-2zM772 449h3v1h-3zM775 448h8v1h-8zM783 449h8v1h-8zM791 450h20v1h-20zM811 451h4v1h-4zM815 452h4v1h-4zM819 453h3v1h-3zM822 454h2v1h-2zM824 455h3v1h-3zM827 456h3v1h-3zM830 457h2v1h-2zM832 458h3v1h-3zM835 459h4v1h-4zM839 460h4v1h-4zM843 461h8v1h-8zM851 462h8v1h-8zM859 463h24v1h-24zM883 462h3v1h-3zM886 461h2v1h-2zM888 460h2v1h-2zM890 459h2v1h-2zM892 458h2v1h-2zM894 457h1v1h-1zM895 456h2v1h-2zM897 455h1v1h-1zM898 454h1v1h-1zM899 453h1v1h-1zM900 452h1v1h-1zM901 451h1v1h-1zM902 450h1v1h-1zM903 449h1v1h-1zM904 448h1v1h-1zM905 447h1v1h-1zM906 446h1v1h-1zM907 445h1v1h-1zM908 444h1v1h-1zM909 443h1v1h-1zM910 442h1v1h-1zM911 441h2v1h-2zM913 440h1v1h-1zM914 439h2v1h-2zM916 438h2v1h-2zM918 437h2v1h-2zM920 436h3v1h-3zM923 435h3v1h-3z" fill="#ff0000" shape-rendering="crispEdges" clip-path="url(#c2)"/><g shape-rendering="crispEdges"><line x1="6" y1="515.5" x2="1167" y2="515.5" stroke="#c0c0c0" stroke-width="1" stroke-dasharray="3,3"/><line x1="6" y1="544.5" x2="1167" y2="544.5" stroke="#c0c0c0" stroke-width="1" stroke-dasharray="3,3"/></g><path d="M5 520h1v1h-1zM6 519h1v1h-1zM7 518h2v1h-2zM9 517h2v1h-2zM11 516h3v1h-3zM14 515h1v1h-1zM15 514h2v1h-2zM17 513h2v1h-2zM19 512h3v1h-3zM22 513h1v2h-1zM23 515h1v2h-1zM24 517h1v2h-1zM25 519h1v2h-1zM26 520h5v1h-5zM31 519h3v1h-3zM34 518h2v1h-2zM36 517h3v1h-3zM39 516h2v1h-2zM41 516h1v2h-1zM42 518h1v4h-1zM43 522h1v3h-1zM44 525h1v4h-1zM45 529h1v2h-1zM46 530h1v1h-1zM47 531h7v1h-7zM54 530h2v1h-2zM56 529h2v1h-2zM58 528h1v1h-1zM59 527h1v1h-1zM60 526h1v1h-1zM61 525h1v1h-1zM62 526h1v1h-1zM63 527h1v2h-1zM64 529h1v1h-1zM65 530h1v1h-1zM66 529h1v1h-1zM67 528h2v1h-2zM69 527h1v1h-1zM70 526h2v1h-2zM72 525h3v1h-3zM75 526h7v1h-7zM82 525h1v1h-1zM83 524h2v1h-2zM85 523h1v1h-1zM86 524h1v1h-1zM87 525h1v2h-1zM88 527h1v1h-1zM89 528h1v1h-1zM90 527h2v1h-2zM92 526h3v1h-3zM95 525h4v1h-4zM99 526h3v1h-3zM102 527h1v1h-1zM103 528h1v2h-1zM104 530h1v1h-1zM105 531h2v1h-2zM107 532h3v1h-3zM110 533h1v1h-1zM111 534h1v2h-1zM112 536h1v1h-1zM113 537h1v1h-1zM114 538h1v1h-1zM115 539h2v1h-2zM117 540h2v1h-2zM119 539h8v1h-8zM127 540h4v1h-4zM131 541h3v1h-3zM134 540h1v1h-1zM135 538h1v2h-1zM136 537h1v1h-1zM137 536h4v1h-4zM141 535h1v2h-1zM142 532h1v3h-1zM143 530h1v2h-1zM144 527h1v3h-1zM145 525h1v2h-1zM146 525h4v1h-4zM150 524h1v1h-1zM151 522h1v2h-1zM152 521h1v1h-1zM153 520h1v1h-1zM154 519h2v1h-2zM156 518h2v1h-2zM158 519h2v1h-2zM160 520h3v1h-3zM163 519h2v1h-2zM165 519h1v2h-1zM166 521h1v2h-1zM167 523h1v2h-1zM168 525h1v2h-1zM169 527h1v2h-1zM170 528h4v1h-4zM174 529h1v1h-1zM175 530h2v1h-2zM177 531h1v1h-1zM178 530h2v1h-2zM180 529h2v1h-2zM182 528h1v1h-1zM183 527h2v1h-2zM185 526h2v1h-2zM187 525h4v1h-4zM191 526h4v1h-4zM195 527h3v1h-3zM198 528h1v1h-1zM199 529h1v2h-1zM200 531h1v1h-1zM201 532h2v1h-2zM203 531h4v1h-4zM207 530h3v1h-3zM210 529h1v1h-1zM211 527h1v2h-1zM212 526h1v1h-1zM213 525h1v1h-1zM214 526h1v2h-1zM215 528h1v2h-1zM216 530h1v2h-1zM217 532h5v1h-5zM222 530h1v2h-1zM223 529h1v1h-1zM224 527h1v2h-1zM225 526h1v1h-1zM226 527h2v1h-2zM228 528h7v1h-7zM235 529h3v1h-3zM238 530h2v1h-2zM240 531h3v1h-3zM243 530h3v1h-3zM246 529h2v1h-2zM248 528h2v1h-2zM250 527h1v1h-1zM251 525h1v2h-1zM252 524h1v1h-1zM253 523h1v1h-1zM254 522h2v1h-2zM256 521h2v1h-2zM258 522h1v2h-1zM259 524h1v2h-1zM260 526h1v2h-1zM261 528h1v1h-1zM262 527h2v1h-2zM264 526h6v1h-6zM270 525h1v1h-1zM271 524h1v1h-1zM272 523h1v1h-1zM273 522h1v1h-1zM274 523h1v1h-1zM275 524h2v1h-2zM277 525h5v1h-5zM282 523h1v2h-1zM283 521h1v2h-1zM284 519h1v2h-1zM285 518h1v1h-1zM286 517h1v1h-1zM287 516h2v1h-2zM289 515h2v1h-2zM291 516h3v1h-3zM294 517h1v1h-1zM295 518h1v2h-1zM296 520h1v1h-1zM297 521h1v1h-1zM298 522h1v1h-1zM299 523h1v2h-1zM300 525h1v1h-1zM301 526h1v1h-1zM302 525h1v1h-1zM303 524h2v1h-2zM305 523h1v1h-1zM306 524h2v1h-2zM308 525h11v1h-11zM319 524h3v1h-3zM322 523h1v1h-1zM323 522h2v1h-2zM325 521h1v1h-1zM326 520h1v1h-1zM327 519h1v1h-1zM328 518h1v1h-1zM329 517h1v1h-1zM330 518h2v1h-2zM332 519h2v1h-2zM334 520h1v1h-1zM335 521h2v1h-2zM337 522h2v1h-2zM339 523h3v1h-3zM342 524h1v1h-1zM343 525h1v2h-1zM344 527h1v1h-1zM345 528h1v1h-1zM346 527h1v1h-1zM347 526h2v1h-2zM349 525h2v1h-2zM351 526h4v1h-4zM355 525h3v1h-3zM358 526h2v1h-2zM360 527h3v1h-3zM363 526h7v1h-7zM370 525h1v1h-1zM371 524h2v1h-2zM373 523h1v1h-1zM374 524h1v2h-1zM375 526h1v2h-1zM376 528h1v2h-1zM377 530h1v2h-1zM378 531h1v1h-1zM379 530h3v1h-3zM382 531h2v1h-2zM384 532h3v1h-3zM387 531h8v1h-8zM395 532h3v1h-3zM398 533h1v1h-1zM399 534h1v1h-1zM400 535h1v1h-1zM401 536h2v1h-2zM403 537h3v1h-3zM406 538h2v1h-2zM408 539h3v1h-3zM411 538h3v1h-3zM414 537h1v1h-1zM415 535h1v2h-1zM416 534h1v1h-1zM417 533h5v1h-5zM422 534h2v1h-2zM424 535h2v1h-2zM426 536h1v2h-1zM427 538h1v1h-1zM428 539h1v2h-1zM429 541h1v1h-1zM430 540h1v1h-1zM431 538h1v2h-1zM432 537h1v1h-1zM433 536h2v1h-2zM435 535h3v1h-3zM438 536h1v1h-1zM439 537h1v2h-1zM440 539h1v1h-1zM441 540h1v1h-1zM442 538h1v2h-1zM443 536h1v2h-1zM444 534h1v2h-1zM445 533h1v1h-1zM446 534h1v1h-1zM447 535h2v1h-2zM449 536h2v1h-2zM451 535h8v1h-8zM459 536h3v1h-3zM462 535h1v1h-1zM463 534h2v1h-2zM465 533h1v1h-1zM466 534h1v1h-1zM467 535h2v1h-2zM469 535h1v2h-1zM470 533h1v2h-1zM471 531h1v2h-1zM472 529h1v2h-1zM473 527h1v2h-1zM474 526h1v1h-1zM475 525h2v1h-2zM477 524h2v1h-2zM479 525h7v1h-7zM486 524h1v1h-1zM487 523h1v1h-1zM488 522h1v1h-1zM489 521h1v1h-1zM490 520h1v1h-1zM491 519h1v1h-1zM492 518h1v1h-1zM493 517h1v1h-1zM494 518h2v1h-2zM496 519h2v1h-2zM498 520h1v1h-1zM499 521h1v1h-1zM500 522h1v1h-1zM501 523h1v1h-1zM502 522h1v1h-1zM503 521h2v1h-2zM505 520h5v1h-5zM510 519h1v1h-1zM511 518h2v1h-2zM513 517h6v1h-6zM519 516h4v1h-4zM523 515h2v1h-2zM525 515h1v2h-1zM526 517h1v4h-1zM527 521h1v4h-1zM528 525h1v4h-1zM529 529h1v3h-1zM530 530h2v1h-2zM532 529h3v1h-3zM535 530h3v1h-3zM538 531h1v1h-1zM539 532h2v1h-2zM541 533h2v1h-2zM543 532h7v1h-7zM550 533h2v1h-2zM552 534h3v1h-3zM555 533h3v1h-3zM558 531h1v2h-1zM559 529h1v2h-1zM560 527h1v2h-1zM561 526h2v1h-2zM563 527h3v1h-3zM566 528h1v1h-1zM567 529h1v1h-1zM568 530h1v1h-1zM569 531h1v1h-1zM570 530h1v1h-1zM571 529h2v1h-2zM573 528h1v1h-1zM574 529h2v1h-2zM576 530h7v1h-7zM583 529h3v1h-3zM586 528h2v1h-2zM588 527h6v1h-6zM594 528h1v1h-1zM595 529h1v2h-1zM596 531h1v1h-1zM597 532h1v1h-1zM598 531h1v1h-1zM599 529h1v2h-1zM600 528h1v1h-1zM601 527h2v1h-2zM603 528h4v1h-4zM607 529h4v1h-4zM611 528h3v1h-3zM614 529h1v1h-1zM615 530h1v1h-1zM616 531h1v1h-1zM617 532h2v1h-2zM619 533h4v1h-4zM623 532h7v1h-7zM630 533h2v1h-2zM632 534h6v1h-6zM638 535h1v1h-1zM639 536h1v1h-1zM640 537h1v1h-1zM641 538h5v1h-5zM646 539h2v1h-2zM648 540h3v1h-3zM651 539h2v1h-2zM653 538h1v2h-1zM654 536h1v2h-1zM655 533h1v3h-1zM656 531h1v2h-1zM657 529h1v2h-1zM658 530h1v1h-1zM659 531h2v1h-2zM661 532h1v1h-1zM662 531h2v1h-2zM664 530h2v1h-2zM666 529h1v1h-1zM667 527h1v2h-1zM668 526h1v1h-1zM669 525h1v1h-1zM670 526h1v1h-1zM671 527h1v1h-1zM672 528h1v1h-1zM673 529h2v1h-2zM675 528h3v1h-3zM678 526h1v2h-1zM679 524h1v2h-1zM680 522h1v2h-1zM681 520h1v2h-1zM682 521h1v1h-1zM683 522h1v1h-1zM684 523h1v1h-1zM685 524h1v2h-1zM686 526h1v2h-1zM687 528h1v2h-1zM688 530h1v2h-1zM689 532h1v2h-1zM690 534h2v1h-2zM692 535h2v1h-2zM694 534h2v1h-2zM696 533h3v1h-3zM699 532h7v1h-7zM706 531h1v1h-1zM707 530h2v1h-2zM709 529h1v1h-1zM710 530h2v1h-2zM712 531h2v1h-2zM714 530h2v1h-2zM716 529h2v1h-2zM718 530h1v1h-1zM719 531h1v2h-1zM720 533h1v1h-1zM721 534h2v1h-2zM723 533h3v1h-3zM726 532h2v1h-2zM728 531h2v1h-2zM730 530h1v1h-1zM731 529h1v1h-1zM732 528h1v1h-1zM733 527h1v1h-1zM734 526h1v1h-1zM735 524h1v2h-1zM736 523h1v1h-1zM737 522h1v1h-1zM738 521h1v1h-1zM739 519h1v2h-1zM740 518h1v1h-1zM741 517h9v1h-9zM750 518h1v1h-1zM751 519h1v2h-1zM752 521h1v1h-1zM753 522h1v1h-1zM754 523h1v2h-1zM755 525h1v1h-1zM756 526h1v2h-1zM757 528h1v1h-1zM758 529h2v1h-2zM760 530h3v1h-3zM763 529h3v1h-3zM766 528h1v1h-1zM767 526h1v2h-1zM768 525h1v1h-1zM769 524h2v1h-2zM771 525h3v1h-3zM774 526h2v1h-2zM776 527h2v1h-2zM778 526h2v1h-2zM780 525h3v1h-3zM783 526h3v1h-3zM786 525h2v1h-2zM788 524h3v1h-3zM791 525h8v1h-8zM799 526h4v1h-4zM803 525h3v1h-3zM806 526h1v1h-1zM807 527h1v2h-1zM808 529h1v1h-1zM809 530h1v1h-1zM810 531h2v1h-2zM812 532h2v1h-2zM814 531h2v1h-2zM816 530h6v1h-6zM822 531h1v2h-1zM823 533h1v1h-1zM824 534h1v2h-1zM825 536h1v1h-1zM826 534h1v2h-1zM827 532h1v2h-1zM828 530h1v2h-1zM829 529h1v1h-1zM830 530h1v1h-1zM831 531h1v1h-1zM832 532h1v1h-1zM833 533h1v1h-1zM834 531h1v2h-1zM835 529h1v2h-1zM836 527h1v2h-1zM837 525h1v2h-1zM838 525h1v1h-1zM839 524h6v1h-6zM845 524h1v2h-1zM846 526h1v2h-1zM847 528h1v2h-1zM848 530h1v2h-1zM849 532h1v2h-1zM850 533h1v1h-1zM851 532h3v1h-3zM854 531h2v1h-2zM856 530h2v1h-2zM858 531h2v1h-2zM860 532h6v1h-6zM866 531h2v1h-2zM868 530h2v1h-2zM870 529h1v1h-1zM871 527h1v2h-1zM872 526h1v1h-1zM873 525h1v1h-1zM874 524h1v1h-1zM875 523h1v1h-1zM876 522h1v1h-1zM877 521h1v1h-1zM878 522h1v1h-1zM879 523h1v1h-1zM880 524h1v1h-1zM881 525h1v1h-1zM882 524h1v1h-1zM883 523h2v1h-2zM885 522h1v1h-1zM886 521h1v1h-1zM887 520h1v1h-1zM888 519h1v1h-1zM889 518h2v1h-2zM891 519h3v1h-3zM894 518h1v1h-1zM895 517h2v1h-2zM897 516h2v1h-2zM899 515h4v1h-4zM903 514h3v1h-3zM906 515h1v2h-1zM907 517h1v2h-1zM908 519h1v2h-1zM909 521h1v1h-1zM910 522h1v1h-1zM911 523h1v2h-1zM912 525h1v1h-1zM913 526h2v1h-2zM915 525h4v1h-4zM919 524h4v1h-4zM923 525h3v1h-3z" fill="#1e90ff" shape-rendering="crispEdges" clip-path="url(#c3)"/><g shape-rendering="crispEdges" fill="#000"><rect x="1168" y="50" width="2" height="1"/><rect x="1168" y="83" width="2" height="1"/><rect x="1168" y="116" width="2" height="1"/><rect x="1168" y="149" width="2" height="1"/><rect x="1168" y="182" width="2" height="1"/><rect x="1168" y="215" width="2" height="1"/><rect x="1168" y="248" width="2" height="1"/><rect x="1168" y="281" width="2" height="1"/><rect x="1168" y="314" width="2" height="1"/><rect x="1168" y="347" width="2" height="1"/><rect x="1168" y="380" width="2" height="1"/><rect x="1168" y="413" width="2" height="1"/><rect x="1168" y="463" width="2" height="1"/><rect x="1168" y="493" width="1" height="1"/><rect x="1168" y="565" width="1" height="1"/><rect x="1168" y="419" width="1" height="1"/><rect x="1168" y="489" width="1" height="1"/><rect x="5" y="567" width="1" height="3"/><rect x="69" y="567" width="1" height="3"/><rect x="133" y="567" width="1" height="3"/><rect x="197" y="567" width="1" height="3"/><rect x="261" y="567" width="1" height="3"/><rect x="325" y="567" width="1" height="3"/><rect x="389" y="567" width="1" height="3"/><rect x="453" y="567" width="1" height="3"/><rect x="517" y="567" width="1" height="3"/><rect x="581" y="567" width="1" height="3"/><rect x="645" y="567" width="1" height="3"/><rect x="709" y="567" width="1" height="3"/><rect x="773" y="567" width="1" height="3"/><rect x="837" y="567" width="1" height="3"/><rect x="901" y="567" width="1" height="3"/></g></svg>
<span class="t" style="left:1172.60px;top:45px;transform:scaleX(0.9240);">0.94530</span><span class="t" style="left:1172.60px;top:78px;transform:scaleX(0.9240);">0.94130</span><span class="t" style="left:1172.60px;top:111px;transform:scaleX(0.9240);">0.93720</span><span class="t" style="left:1172.60px;top:177px;transform:scaleX(0.9240);">0.92920</span><span class="t" style="left:1172.60px;top:210px;transform:scaleX(0.9240);">0.92510</span><span class="t" style="left:1172.60px;top:243px;transform:scaleX(0.9433);">0.92110</span><span class="t" style="left:1172.60px;top:276px;transform:scaleX(0.9240);">0.91700</span><span class="t" style="left:1172.60px;top:309px;transform:scaleX(0.9240);">0.91300</span><span class="t" style="left:1172.60px;top:342px;transform:scaleX(0.9240);">0.90900</span><span class="t" style="left:1172.60px;top:375px;transform:scaleX(0.9240);">0.90490</span><span class="t" style="left:1172.60px;top:408px;transform:scaleX(0.9240);">0.90090</span><span class="t" style="left:1171.60px;top:420px;transform:scaleX(0.9200);">0.005963</span><span class="t" style="left:1171.60px;top:458px;transform:scaleX(0.9200);">0.00</span><span class="t" style="left:1170.60px;top:479px;transform:scaleX(0.9200);">-0.003664</span><span class="t" style="left:1170.60px;top:494px;transform:scaleX(0.9200);">100</span><span class="t" style="left:1170.60px;top:510px;transform:scaleX(0.9200);">70</span><span class="t" style="left:1170.60px;top:539px;transform:scaleX(0.9200);">30</span><span class="t" style="left:1171.00px;top:554px;transform:scaleX(0.9200);">0</span><i class="plb" style="top:103px;background:#ff0000"></i><span class="t" style="left:1172.60px;top:103px;transform:scaleX(0.9240);color:#fff">0.93815</span><i class="plb" style="top:169px;background:#7cfc00"></i><span class="t" style="left:1172.60px;top:169px;transform:scaleX(0.9240);color:#fff">0.93006</span><i class="plb" style="top:218px;background:#0000ff"></i><span class="t" style="left:1172.60px;top:218px;transform:scaleX(0.9240);color:#fff">0.92403</span><i class="plb" style="top:267px;background:#0000ff"></i><span class="t" style="left:1172.60px;top:267px;transform:scaleX(0.9240);color:#fff">0.91800</span><i class="plb" style="top:316px;background:#0000ff"></i><span class="t" style="left:1172.60px;top:316px;transform:scaleX(0.9240);color:#fff">0.91206</span><i class="plb" style="top:145px;background:#000"></i><span class="t" style="left:1172.60px;top:145px;transform:scaleX(0.9240);color:#fff">0.93313</span><span class="t" style="left:3.80px;top:570px;transform:scaleX(0.9100);">27 Jun 2021</span><span class="t" style="left:67.80px;top:570px;transform:scaleX(0.9100);">15 Jul 2021</span><span class="t" style="left:131.80px;top:570px;transform:scaleX(0.9100);">3 Aug 2021</span><span class="t" style="left:195.80px;top:570px;transform:scaleX(0.9100);">22 Aug 2021</span><span class="t" style="left:259.80px;top:570px;transform:scaleX(0.9100);">9 Sep 2021</span><span class="t" style="left:323.80px;top:570px;transform:scaleX(0.9100);">28 Sep 2021</span><span class="t" style="left:387.80px;top:570px;transform:scaleX(0.9100);">17 Oct 2021</span><span class="t" style="left:451.80px;top:570px;transform:scaleX(0.9100);">4 Nov 2021</span><span class="t" style="left:515.80px;top:570px;transform:scaleX(0.9100);">23 Nov 2021</span><span class="t" style="left:579.80px;top:570px;transform:scaleX(0.9100);">12 Dec 2021</span><span class="t" style="left:643.80px;top:570px;transform:scaleX(0.9100);">30 Dec 2021</span><span class="t" style="left:707.80px;top:570px;transform:scaleX(0.9100);">18 Jan 2022</span><span class="t" style="left:771.80px;top:570px;transform:scaleX(0.9100);">6 Feb 2022</span><span class="t" style="left:835.80px;top:570px;transform:scaleX(0.9100);">24 Feb 2022</span><span class="t" style="left:899.80px;top:570px;transform:scaleX(0.9100);">15 Mar 2022</span><span class="t" style="left:20.00px;top:28px;transform:scaleX(0.9771);">USDCHF-,Daily</span><span class="t" style="left:94.20px;top:28px;transform:scaleX(0.9233);">0.93391 0.93747 0.93129 0.93313</span><span class="t" style="left:9.00px;top:422px;transform:scaleX(0.9486);">MACD(12,26,9)</span><span class="t" style="left:77.90px;top:422px;transform:scaleX(0.9258);">0.003337 0.003720</span><span class="t" style="left:8.80px;top:496px;transform:scaleX(0.9348);">RSI(14) 55.4268</span><span class="t" style="left:-4.00px;top:4px;transform:scaleX(0.9889);color:#404040;-webkit-text-stroke:0">15</span><span class="t" style="left:15.60px;top:4px;transform:scaleX(0.9664);color:#404040;-webkit-text-stroke:0">M30</span><span class="t" style="left:47.10px;top:4px;transform:scaleX(0.9622);color:#404040;-webkit-text-stroke:0">H1</span><span class="t" style="left:74.10px;top:4px;transform:scaleX(1.0404);color:#404040;-webkit-text-stroke:0">H4</span><span class="t" style="left:103.20px;top:4px;transform:scaleX(0.9700);color:#404040;-webkit-text-stroke:0">D1</span><span class="t" style="left:130.60px;top:4px;transform:scaleX(0.9867);color:#404040;-webkit-text-stroke:0">W1</span><span class="t" style="left:157.10px;top:4px;transform:scaleX(0.9838);color:#404040;-webkit-text-stroke:0">MN</span>
<div style="position:absolute;left:7.5px;top:31.5px;width:0;height:0;border-left:4px solid transparent;border-right:4px solid transparent;border-bottom:4.5px solid #000"></div>
<!-- one click trading -->
<div id="oct" style="position:absolute;left:0;top:0">
<div class="btn" style="left:8px;top:45px;width:52px;height:24px;background:linear-gradient(#fb5252,#e63838);box-shadow:inset 0 0 0 1px #b40000"></div>
<div class="btn" style="left:175px;top:45px;width:52px;height:24px;background:linear-gradient(#fb5252,#e63838);box-shadow:inset 0 0 0 1px #b40000"></div>
<div class="btn" style="left:8px;top:69px;width:109px;height:33px;background:linear-gradient(#de2c2c,#b60202);box-shadow:inset 0 0 0 1px #b00000"></div>
<div class="btn" style="left:119px;top:69px;width:108px;height:33px;background:linear-gradient(#de2c2c,#b60202);box-shadow:inset 0 0 0 1px #b00000"></div>
<div class="btn" style="left:9px;top:68px;width:50px;height:2px;background:linear-gradient(#e63838,#de2c2c)"></div>
<div class="btn" style="left:176px;top:68px;width:50px;height:2px;background:linear-gradient(#e63838,#de2c2c)"></div>
<div style="position:absolute;left:12px;top:68px;width:44px;height:1px;background:#ff9a9a"></div>
<div style="position:absolute;left:179px;top:68px;width:44px;height:1px;background:#ff9a9a"></div>
<span class="btn" style="left:20px;top:50px;font-size:12px;line-height:15px;transform:scaleX(.9);transform-origin:0 0">SELL</span>
<span class="btn" style="left:188px;top:50px;font-size:12px;line-height:15px;transform:scaleX(.97);transform-origin:0 0">BUY</span>
<div style="position:absolute;left:62px;top:45px;width:109px;height:20px;border:1px solid #abadb3;background:#fff"></div>
<div style="position:absolute;left:64px;top:47px;width:18px;height:18px;background:linear-gradient(#f2f2f2 0,#ebebeb 45%,#dcdcdc 50%,#cfcfcf)"></div>
<div style="position:absolute;left:152px;top:47px;width:18px;height:18px;background:linear-gradient(#f2f2f2 0,#ebebeb 45%,#dcdcdc 50%,#cfcfcf)"></div>
<div style="position:absolute;left:82px;top:46px;width:1px;height:20px;background:#abadb3"></div>
<div style="position:absolute;left:151px;top:46px;width:1px;height:20px;background:#abadb3"></div>
<div style="position:absolute;left:70px;top:54px;width:0;height:0;border-left:3px solid transparent;border-right:3px solid transparent;border-top:3px solid #4a5fc0"></div>
<div style="position:absolute;left:158px;top:53px;width:0;height:0;border-left:3px solid transparent;border-right:3px solid transparent;border-bottom:3px solid #4a5fc0"></div>
<span style="position:absolute;left:99.5px;top:49px;width:48px;text-align:right;font-size:12px;line-height:15px;color:#000">5.00</span>
<span class="btn" style="left:28px;top:86px;font-size:12px;line-height:15px;font-weight:bold">0.93</span>
<span class="btn" style="left:56px;top:67px;font-size:33.5px;line-height:36px;letter-spacing:-2.3px;-webkit-text-stroke:0.8px #cd1c1c">31</span>
<span class="btn" style="left:95px;top:71px;font-size:10px;line-height:13px;font-weight:bold">3</span>
<span class="btn" style="left:138.5px;top:86px;font-size:12px;line-height:15px;font-weight:bold">0.93</span>
<span class="btn" style="left:167px;top:67px;font-size:33.5px;line-height:36px;letter-spacing:-2.3px;-webkit-text-stroke:0.8px #cd1c1c">33</span>
<span class="btn" style="left:206px;top:71px;font-size:10px;line-height:13px;font-weight:bold">6</span>
</div>
<!-- bottom -->
<div style="position:absolute;left:0;top:587px;width:1209px;height:2px;background:#f0f0f0"></div>
<div style="position:absolute;left:0;top:589px;width:1209px;height:1px;background:#000"></div>
<div id="tabbar"><span class="tab" style="left:17.5px">USDX,Weekly</span><span class="tab" style="left:117.5px">EURUSD-,Daily</span><span class="tab" style="left:223.8px">AUDUSD-,Daily</span><span class="tab" style="left:441px">USDCAD-,Daily</span><span class="tab" style="left:549.6px">USDCNH-,Daily</span><span class="tab" style="left:660.5px">XAUUSD-,H1</span><span class="tab" style="left:756px">UKOil-,M15</span><span class="tab" style="left:845.5px">DJ30-,Daily</span><span class="tab" style="left:933px">UK100-,H1</span><span class="tab" style="left:1017.5px">USOil-,H4</span><span class="tab" style="left:1095.5px">HK50-,Daily</span><i class="sep" style="left:106px"></i><i class="sep" style="left:214px"></i><i class="sep" style="left:539px"></i><i class="sep" style="left:650px"></i><i class="sep" style="left:746px"></i><i class="sep" style="left:834px"></i><i class="sep" style="left:922px"></i><i class="sep" style="left:1006px"></i><i class="sep" style="left:1086px"></i><i class="sep" style="left:1174px"></i>
<div style="position:absolute;left:0;top:0;width:1px;height:19px;background:#a0a0a0"></div>
<div style="position:absolute;left:1px;top:0;width:1px;height:18px;background:#696969"></div>
<div style="position:absolute;left:1183px;top:5px;width:0;height:0;border-top:3px solid transparent;border-bottom:3px solid transparent;border-right:4px solid #a0a0a0"></div>
<div style="position:absolute;left:1201px;top:5px;width:0;height:0;border-top:3px solid transparent;border-bottom:3px solid transparent;border-left:4px solid #a0a0a0"></div>
</div>
<div id="act"><span>USDCHF-,Daily</span></div>
<div style="position:absolute;left:0;top:609px;width:1209px;height:1px;background:#fff"></div>
<div style="position:absolute;left:0;top:610px;width:1209px;height:3px;background:linear-gradient(#ececec,#e2e2e2)"></div>
<div style="position:absolute;left:0;top:613px;width:1209px;height:1px;background:#a0a0a0"></div>
<div style="position:absolute;left:0;top:614px;width:1209px;height:1px;background:#fcfcfc"></div>
</body></html>
